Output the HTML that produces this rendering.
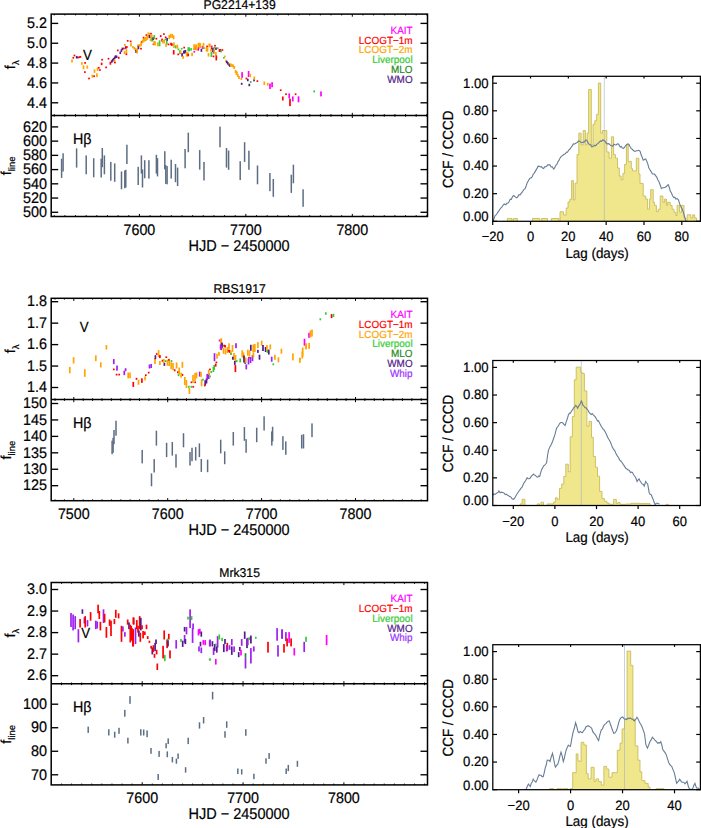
<!DOCTYPE html>
<html><head><meta charset="utf-8"><title>Light curves and CCF</title>
<style>html,body{margin:0;padding:0;background:#fff;} svg{display:block;} text{font-family:"Liberation Sans",sans-serif;}</style>
</head><body>
<svg width="701" height="828" viewBox="0 0 701 828" font-family="Liberation Sans, sans-serif" text-rendering="geometricPrecision">
<rect width="701" height="828" fill="#fff"/>
<rect x="71.15" y="59.5" width="1.7" height="3" fill="#ffa500"/>
<rect x="72.45" y="56.95" width="1.7" height="1.7" fill="#ff0000"/>
<rect x="73.65" y="54.65" width="1.7" height="1.7" fill="#ff0000"/>
<rect x="75.85" y="55.95" width="1.7" height="2.5" fill="#551a8b"/>
<rect x="77.15" y="56.65" width="1.7" height="1.7" fill="#551a8b"/>
<rect x="78.65" y="56.35" width="1.7" height="1.7" fill="#ff0000"/>
<rect x="79.55" y="56.05" width="1.7" height="1.7" fill="#ff0000"/>
<rect x="81.05" y="62.2" width="1.7" height="2.6" fill="#ffa500"/>
<rect x="82.65" y="65.3" width="1.7" height="4" fill="#ffa500"/>
<rect x="84.05" y="71.25" width="1.7" height="1.7" fill="#ff0000"/>
<rect x="84.25" y="62.05" width="1.7" height="1.7" fill="#ff0000"/>
<rect x="86.45" y="65.5" width="1.7" height="3.2" fill="#ffa500"/>
<rect x="88.15" y="77.65" width="1.7" height="1.7" fill="#ff0000"/>
<rect x="91.55" y="74.7" width="1.7" height="3" fill="#ffa500"/>
<rect x="93.25" y="75.35" width="1.7" height="1.7" fill="#ff0000"/>
<rect x="93.65" y="69.3" width="1.7" height="3.6" fill="#ffa500"/>
<rect x="96.05" y="73.3" width="1.7" height="3.8" fill="#ffa500"/>
<rect x="96.65" y="67.6" width="1.7" height="3.4" fill="#ffa500"/>
<rect x="97.95" y="66.95" width="1.7" height="1.7" fill="#ff0000"/>
<rect x="99.05" y="69.15" width="1.7" height="1.7" fill="#ff0000"/>
<rect x="100.75" y="62.65" width="1.7" height="2.5" fill="#ff0000"/>
<rect x="101.25" y="58.85" width="1.7" height="1.7" fill="#ff0000"/>
<rect x="105.25" y="66.55" width="1.7" height="1.7" fill="#ff0000"/>
<rect x="107.65" y="57.85" width="1.7" height="1.7" fill="#ff0000"/>
<rect x="109.55" y="61.7" width="1.7" height="3" fill="#ff0000"/>
<rect x="110.95" y="60.25" width="1.7" height="2.5" fill="#551a8b"/>
<rect x="111.85" y="59.05" width="1.7" height="2.5" fill="#551a8b"/>
<rect x="112.75" y="57.95" width="1.7" height="2.5" fill="#551a8b"/>
<rect x="113.75" y="59.45" width="1.7" height="2.5" fill="#ffa500"/>
<rect x="113.85" y="56.55" width="1.7" height="2.5" fill="#551a8b"/>
<rect x="114.05" y="61.75" width="1.7" height="1.7" fill="#ff0000"/>
<rect x="114.75" y="55.35" width="1.7" height="2.5" fill="#551a8b"/>
<rect x="115.75" y="55.55" width="1.7" height="2.5" fill="#551a8b"/>
<rect x="116.95" y="49.55" width="1.7" height="1.7" fill="#ff0000"/>
<rect x="117.85" y="56.8" width="1.7" height="2" fill="#ff0000"/>
<rect x="119.45" y="51.55" width="1.7" height="2.5" fill="#551a8b"/>
<rect x="120.55" y="49.35" width="1.7" height="2.5" fill="#551a8b"/>
<rect x="121.55" y="47.65" width="1.7" height="2.5" fill="#551a8b"/>
<rect x="123.05" y="47.65" width="1.7" height="1.7" fill="#ff0000"/>
<rect x="123.65" y="51.1" width="1.7" height="3" fill="#ffa500"/>
<rect x="123.95" y="44" width="1.7" height="2" fill="#ffa500"/>
<rect x="124.95" y="46.25" width="1.7" height="2.5" fill="#551a8b"/>
<rect x="125.55" y="49.05" width="1.7" height="4.5" fill="#ffa500"/>
<rect x="125.55" y="53.45" width="1.7" height="1.7" fill="#ff0000"/>
<rect x="125.95" y="46.1" width="1.7" height="2" fill="#ff0000"/>
<rect x="126.85" y="39.95" width="1.7" height="1.7" fill="#ff0000"/>
<rect x="129.75" y="40.55" width="1.7" height="1.7" fill="#ff0000"/>
<rect x="130.15" y="42.85" width="1.7" height="3.5" fill="#ffa500"/>
<rect x="132.05" y="45.95" width="1.7" height="2.5" fill="#ffa500"/>
<rect x="133.55" y="47.05" width="1.7" height="2.5" fill="#ffa500"/>
<rect x="134.55" y="48.05" width="1.7" height="2.5" fill="#ffa500"/>
<rect x="135.25" y="49.9" width="1.7" height="3" fill="#551a8b"/>
<rect x="136.25" y="48.5" width="1.7" height="5" fill="#ffa500"/>
<rect x="137.35" y="44.3" width="1.7" height="3" fill="#ffa500"/>
<rect x="137.55" y="45.75" width="1.7" height="3.5" fill="#551a8b"/>
<rect x="138.75" y="44" width="1.7" height="3" fill="#ffa500"/>
<rect x="140.15" y="47.85" width="1.7" height="1.7" fill="#ff0000"/>
<rect x="140.35" y="41.3" width="1.7" height="5" fill="#ffa500"/>
<rect x="141.25" y="41.05" width="1.7" height="1.7" fill="#ff0000"/>
<rect x="141.75" y="39.75" width="1.7" height="3.5" fill="#ffa500"/>
<rect x="142.75" y="38.35" width="1.7" height="3.5" fill="#ffa500"/>
<rect x="142.75" y="36.75" width="1.7" height="1.7" fill="#ff0000"/>
<rect x="143.95" y="37.4" width="1.7" height="4" fill="#ffa500"/>
<rect x="145.05" y="37" width="1.7" height="4" fill="#ffa500"/>
<rect x="145.55" y="34.25" width="1.7" height="1.7" fill="#ff0000"/>
<rect x="146.45" y="35.8" width="1.7" height="4" fill="#ffa500"/>
<rect x="147.45" y="32.5" width="1.7" height="5" fill="#ffa500"/>
<rect x="148.25" y="32.8" width="1.7" height="5" fill="#ffa500"/>
<rect x="148.75" y="35.1" width="1.7" height="3" fill="#551a8b"/>
<rect x="149.75" y="37.65" width="1.7" height="3.5" fill="#ffa500"/>
<rect x="150.15" y="32.85" width="1.7" height="1.7" fill="#ff0000"/>
<rect x="150.95" y="34.5" width="1.7" height="4" fill="#ffa500"/>
<rect x="151.25" y="38.05" width="1.7" height="3.5" fill="#33cc33"/>
<rect x="152.35" y="37.2" width="1.7" height="3" fill="#551a8b"/>
<rect x="152.65" y="43.45" width="1.7" height="1.7" fill="#ff0000"/>
<rect x="153.35" y="41" width="1.7" height="4" fill="#ffa500"/>
<rect x="153.45" y="35.1" width="1.7" height="4" fill="#33cc33"/>
<rect x="154.25" y="41.4" width="1.7" height="4" fill="#ffa500"/>
<rect x="155.55" y="37.85" width="1.7" height="1.7" fill="#ff0000"/>
<rect x="156.95" y="42.3" width="1.7" height="4" fill="#ffa500"/>
<rect x="158.75" y="40.3" width="1.7" height="6" fill="#33cc33"/>
<rect x="159.85" y="35.1" width="1.7" height="2" fill="#ff0000"/>
<rect x="161.25" y="38.6" width="1.7" height="3" fill="#ff0000"/>
<rect x="162.15" y="39.85" width="1.7" height="3.5" fill="#ffa500"/>
<rect x="163.05" y="33.25" width="1.7" height="1.7" fill="#ff0000"/>
<rect x="163.25" y="39.85" width="1.7" height="3.5" fill="#ffa500"/>
<rect x="164.45" y="38.55" width="1.7" height="1.7" fill="#33cc33"/>
<rect x="164.85" y="36.45" width="1.7" height="1.7" fill="#ff0000"/>
<rect x="165.15" y="43.8" width="1.7" height="3" fill="#ffa500"/>
<rect x="165.85" y="40.85" width="1.7" height="3.5" fill="#33cc33"/>
<rect x="166.25" y="37.9" width="1.7" height="3" fill="#551a8b"/>
<rect x="167.65" y="43.55" width="1.7" height="1.7" fill="#ff0000"/>
<rect x="168.35" y="35" width="1.7" height="4" fill="#ffa500"/>
<rect x="169.85" y="33.8" width="1.7" height="4" fill="#ffa500"/>
<rect x="170.15" y="42.75" width="1.7" height="2.5" fill="#ff0000"/>
<rect x="171.05" y="43.35" width="1.7" height="2.5" fill="#ff0000"/>
<rect x="171.35" y="33.9" width="1.7" height="4" fill="#ffa500"/>
<rect x="172.75" y="35.3" width="1.7" height="4" fill="#ffa500"/>
<rect x="172.85" y="50.05" width="1.7" height="4.5" fill="#ff0000"/>
<rect x="173.05" y="42.35" width="1.7" height="5.5" fill="#ffa500"/>
<rect x="174.85" y="45.4" width="1.7" height="3" fill="#33cc33"/>
<rect x="176.55" y="44.6" width="1.7" height="4" fill="#ffa500"/>
<rect x="177.35" y="53.55" width="1.7" height="1.7" fill="#ff0000"/>
<rect x="177.65" y="48.55" width="1.7" height="1.7" fill="#33cc33"/>
<rect x="179.15" y="50.2" width="1.7" height="4" fill="#33cc33"/>
<rect x="179.75" y="50.7" width="1.7" height="3" fill="#ffa500"/>
<rect x="180.85" y="47.85" width="1.7" height="1.7" fill="#33cc33"/>
<rect x="181.25" y="53.15" width="1.7" height="3.5" fill="#551a8b"/>
<rect x="182.25" y="55.8" width="1.7" height="3" fill="#ffa500"/>
<rect x="182.95" y="50.7" width="1.7" height="3" fill="#551a8b"/>
<rect x="183.35" y="46.75" width="1.7" height="1.7" fill="#ff0000"/>
<rect x="183.95" y="50.5" width="1.7" height="3" fill="#551a8b"/>
<rect x="184.55" y="49.9" width="1.7" height="3" fill="#551a8b"/>
<rect x="185.75" y="51.95" width="1.7" height="4.5" fill="#ffa500"/>
<rect x="186.75" y="52.15" width="1.7" height="4.5" fill="#ffa500"/>
<rect x="187.35" y="53.65" width="1.7" height="2.5" fill="#ff0000"/>
<rect x="187.45" y="47.3" width="1.7" height="4" fill="#33cc33"/>
<rect x="188.35" y="47.3" width="1.7" height="4" fill="#33cc33"/>
<rect x="190.25" y="48.15" width="1.7" height="2.5" fill="#33cc33"/>
<rect x="191.25" y="52.65" width="1.7" height="3.5" fill="#ffa500"/>
<rect x="193.25" y="44.35" width="1.7" height="5.5" fill="#ffa500"/>
<rect x="193.45" y="48.45" width="1.7" height="1.7" fill="#33cc33"/>
<rect x="193.45" y="50.95" width="1.7" height="1.7" fill="#ff00ff"/>
<rect x="194.15" y="44.55" width="1.7" height="5.5" fill="#ffa500"/>
<rect x="195.25" y="47.35" width="1.7" height="1.7" fill="#ff0000"/>
<rect x="195.35" y="44.4" width="1.7" height="6" fill="#ffa500"/>
<rect x="197.35" y="48.6" width="1.7" height="2" fill="#ff0000"/>
<rect x="197.45" y="43" width="1.7" height="5" fill="#ffa500"/>
<rect x="197.75" y="47.2" width="1.7" height="2" fill="#ff00ff"/>
<rect x="198.55" y="42.7" width="1.7" height="5" fill="#ffa500"/>
<rect x="199.45" y="43.1" width="1.7" height="5" fill="#ffa500"/>
<rect x="200.55" y="48.8" width="1.7" height="3" fill="#551a8b"/>
<rect x="201.65" y="45.9" width="1.7" height="3" fill="#ff00ff"/>
<rect x="202.65" y="43" width="1.7" height="5" fill="#ffa500"/>
<rect x="203.05" y="47.35" width="1.7" height="1.7" fill="#33cc33"/>
<rect x="205.65" y="47.05" width="1.7" height="4.5" fill="#ffa500"/>
<rect x="206.25" y="45.55" width="1.7" height="1.7" fill="#ff0000"/>
<rect x="206.65" y="47.25" width="1.7" height="4.5" fill="#ffa500"/>
<rect x="207.65" y="53.05" width="1.7" height="3.5" fill="#ffa500"/>
<rect x="208.35" y="43.55" width="1.7" height="3.5" fill="#ffa500"/>
<rect x="209.15" y="43.75" width="1.7" height="3.5" fill="#ffa500"/>
<rect x="210.15" y="48.7" width="1.7" height="3" fill="#ffa500"/>
<rect x="210.55" y="52" width="1.7" height="5" fill="#33cc33"/>
<rect x="210.85" y="45.55" width="1.7" height="1.7" fill="#ff00ff"/>
<rect x="210.95" y="47.2" width="1.7" height="2" fill="#ff0000"/>
<rect x="212.15" y="48" width="1.7" height="4" fill="#551a8b"/>
<rect x="212.65" y="55.55" width="1.7" height="1.7" fill="#ff0000"/>
<rect x="212.75" y="49.5" width="1.7" height="4" fill="#551a8b"/>
<rect x="213.35" y="49.3" width="1.7" height="4" fill="#ffa500"/>
<rect x="213.35" y="46.95" width="1.7" height="1.7" fill="#33cc33"/>
<rect x="214.15" y="44.85" width="1.7" height="1.7" fill="#ff0000"/>
<rect x="215.05" y="52.15" width="1.7" height="3.5" fill="#ffa500"/>
<rect x="215.15" y="47.45" width="1.7" height="2.5" fill="#551a8b"/>
<rect x="215.45" y="55.4" width="1.7" height="5" fill="#ff0000"/>
<rect x="216.95" y="47.35" width="1.7" height="1.7" fill="#33cc33"/>
<rect x="218.65" y="49" width="1.7" height="3" fill="#ff0000"/>
<rect x="219.45" y="49" width="1.7" height="3" fill="#ff0000"/>
<rect x="220.15" y="50.4" width="1.7" height="2" fill="#33cc33"/>
<rect x="221.55" y="49.15" width="1.7" height="1.7" fill="#ff0000"/>
<rect x="223.05" y="56.95" width="1.7" height="1.7" fill="#33cc33"/>
<rect x="224.15" y="55.55" width="1.7" height="1.7" fill="#ffa500"/>
<rect x="225.15" y="59.75" width="1.7" height="2.5" fill="#ffa500"/>
<rect x="225.95" y="60.75" width="1.7" height="2.5" fill="#551a8b"/>
<rect x="226.95" y="62.05" width="1.7" height="2.5" fill="#551a8b"/>
<rect x="227.95" y="63.25" width="1.7" height="2.5" fill="#551a8b"/>
<rect x="228.65" y="63" width="1.7" height="3" fill="#ffa500"/>
<rect x="228.95" y="64.25" width="1.7" height="2.5" fill="#551a8b"/>
<rect x="229.95" y="63.5" width="1.7" height="3" fill="#ffa500"/>
<rect x="231.15" y="64" width="1.7" height="3" fill="#ffa500"/>
<rect x="232.35" y="64.5" width="1.7" height="3" fill="#ffa500"/>
<rect x="233.45" y="66" width="1.7" height="3" fill="#ffa500"/>
<rect x="234.75" y="70" width="1.7" height="3" fill="#ffa500"/>
<rect x="235.95" y="72" width="1.7" height="3" fill="#ffa500"/>
<rect x="236.95" y="74" width="1.7" height="3" fill="#ffa500"/>
<rect x="235.65" y="71" width="1.7" height="4" fill="#ffa500"/>
<rect x="238.15" y="76" width="1.7" height="3" fill="#ffa500"/>
<rect x="240.55" y="78" width="1.7" height="2" fill="#ffa500"/>
<rect x="240.85" y="82.8" width="1.7" height="2" fill="#551a8b"/>
<rect x="241.25" y="72.15" width="1.7" height="5.7" fill="#ff00ff"/>
<rect x="245.55" y="77.65" width="1.7" height="1.7" fill="#ff0000"/>
<rect x="246.95" y="78.75" width="1.7" height="2.5" fill="#551a8b"/>
<rect x="247.75" y="71" width="1.7" height="6" fill="#ff00ff"/>
<rect x="248.45" y="83.75" width="1.7" height="2.5" fill="#551a8b"/>
<rect x="249.45" y="73.75" width="1.7" height="3.5" fill="#ffa500"/>
<rect x="249.85" y="81" width="1.7" height="2" fill="#33cc33"/>
<rect x="253.15" y="79.3" width="1.7" height="2" fill="#551a8b"/>
<rect x="253.45" y="76.5" width="1.7" height="3" fill="#ffa500"/>
<rect x="256.55" y="80.25" width="1.7" height="1.7" fill="#ff0000"/>
<rect x="263.45" y="81.45" width="1.7" height="3.5" fill="#ffa500"/>
<rect x="266.95" y="82.8" width="1.7" height="3" fill="#ffa500"/>
<rect x="269.15" y="83.55" width="1.7" height="5.5" fill="#ff00ff"/>
<rect x="271.25" y="82.2" width="1.7" height="5" fill="#ff00ff"/>
<rect x="279.85" y="89.35" width="1.7" height="1.7" fill="#ff0000"/>
<rect x="281.95" y="96.5" width="1.7" height="4" fill="#ff0000"/>
<rect x="285.15" y="93.35" width="1.7" height="1.7" fill="#ff0000"/>
<rect x="288.35" y="93.4" width="1.7" height="5" fill="#ff00ff"/>
<rect x="289.15" y="98.65" width="1.7" height="7.5" fill="#ff0000"/>
<rect x="291.95" y="96.4" width="1.7" height="5" fill="#ff00ff"/>
<rect x="294.75" y="93.35" width="1.7" height="1.7" fill="#ff0000"/>
<rect x="297.65" y="96.3" width="1.7" height="6" fill="#ff00ff"/>
<rect x="313.35" y="90.4" width="1.7" height="2" fill="#33cc33"/>
<rect x="320.15" y="91.4" width="1.7" height="5" fill="#ff00ff"/>
<rect x="60.85" y="158.7" width="1.5" height="19.2" fill="#5d6e84"/>
<rect x="62.35" y="153.3" width="1.5" height="18.2" fill="#5d6e84"/>
<rect x="75.85" y="148.4" width="1.5" height="19.2" fill="#5d6e84"/>
<rect x="85.45" y="155.4" width="1.5" height="18.9" fill="#5d6e84"/>
<rect x="92.95" y="158.2" width="1.5" height="19.1" fill="#5d6e84"/>
<rect x="100.45" y="158.7" width="1.5" height="18.8" fill="#5d6e84"/>
<rect x="101.55" y="148" width="1.5" height="19.2" fill="#5d6e84"/>
<rect x="103.65" y="155.4" width="1.5" height="18.9" fill="#5d6e84"/>
<rect x="110.05" y="161.9" width="1.5" height="18.8" fill="#5d6e84"/>
<rect x="113.95" y="163.4" width="1.5" height="18.4" fill="#5d6e84"/>
<rect x="120.75" y="171.5" width="1.5" height="17.8" fill="#5d6e84"/>
<rect x="124.05" y="170.4" width="1.5" height="17.8" fill="#5d6e84"/>
<rect x="125.05" y="169.8" width="1.5" height="17.7" fill="#5d6e84"/>
<rect x="126.15" y="144.7" width="1.5" height="19.3" fill="#5d6e84"/>
<rect x="137.45" y="166.8" width="1.5" height="18.2" fill="#5d6e84"/>
<rect x="140.65" y="155.4" width="1.5" height="18.2" fill="#5d6e84"/>
<rect x="141.75" y="169.4" width="1.5" height="18.1" fill="#5d6e84"/>
<rect x="143.95" y="160.2" width="1.5" height="18.1" fill="#5d6e84"/>
<rect x="148.15" y="160.2" width="1.5" height="18.4" fill="#5d6e84"/>
<rect x="155.65" y="154.8" width="1.5" height="18.8" fill="#5d6e84"/>
<rect x="156.75" y="158.2" width="1.5" height="18.2" fill="#5d6e84"/>
<rect x="164.05" y="151.2" width="1.5" height="18.2" fill="#5d6e84"/>
<rect x="165.05" y="165.1" width="1.5" height="18.8" fill="#5d6e84"/>
<rect x="166.35" y="166.1" width="1.5" height="18.2" fill="#5d6e84"/>
<rect x="170.45" y="159.7" width="1.5" height="18.9" fill="#5d6e84"/>
<rect x="174.75" y="164" width="1.5" height="18.2" fill="#5d6e84"/>
<rect x="176.85" y="167.6" width="1.5" height="18.4" fill="#5d6e84"/>
<rect x="184.35" y="149" width="1.5" height="19.3" fill="#5d6e84"/>
<rect x="187.55" y="132.6" width="1.5" height="19.6" fill="#5d6e84"/>
<rect x="198.95" y="150.1" width="1.5" height="19.5" fill="#5d6e84"/>
<rect x="203.25" y="161.9" width="1.5" height="18.6" fill="#5d6e84"/>
<rect x="219.25" y="126.6" width="1.5" height="20.7" fill="#5d6e84"/>
<rect x="225.75" y="148" width="1.5" height="19.6" fill="#5d6e84"/>
<rect x="227.85" y="150.5" width="1.5" height="19.3" fill="#5d6e84"/>
<rect x="239.45" y="161.2" width="1.5" height="18.9" fill="#5d6e84"/>
<rect x="243.85" y="142.2" width="1.5" height="19.7" fill="#5d6e84"/>
<rect x="248.15" y="150.7" width="1.5" height="19.1" fill="#5d6e84"/>
<rect x="256.75" y="165.5" width="1.5" height="18.8" fill="#5d6e84"/>
<rect x="269.15" y="173" width="1.5" height="18.2" fill="#5d6e84"/>
<rect x="272.55" y="179" width="1.5" height="17.8" fill="#5d6e84"/>
<rect x="290.55" y="174.7" width="1.5" height="18.2" fill="#5d6e84"/>
<rect x="292.65" y="164.7" width="1.5" height="18.6" fill="#5d6e84"/>
<rect x="302.35" y="189.3" width="1.5" height="17.5" fill="#5d6e84"/>
<path d="M507.4,221.3V218.5H509.7V221.3ZM509.7,221.3V218.5H512V221.3ZM513.3,221.3V218.5H517.4V221.3ZM532.4,221.3V218.5H539.8V221.3ZM541.6,221.3V218.5H547.5V221.3ZM551.3,221.3V218.5H559V221.3ZM560,221.3V211.8H563.6V221.3ZM563.6,221.3V215H566.2V221.3ZM566.2,221.3V208H568V221.3ZM568,221.3V202H569.8V221.3ZM569.8,221.3V199.3H571.6V221.3ZM571.6,221.3V180.6H573.4V221.3ZM573.4,221.3V200H575V221.3ZM575,221.3V183.2H577V221.3ZM577,221.3V154.6H578.8V221.3ZM578.8,221.3V133.2H581.1V221.3ZM581.1,221.3V144.8H583.2V221.3ZM583.2,221.3V130.5H585.4V221.3ZM585.4,221.3V144.8H587.1V221.3ZM587.1,221.3V133.2H588.6V221.3ZM588.6,221.3V89.4H591.3V221.3ZM591.3,221.3V144.8H593V221.3ZM593,221.3V124.3H594.8V221.3ZM594.8,221.3V120.7H596.6V221.3ZM596.6,221.3V114.4H598.4V221.3ZM598.4,221.3V83.1H600.7V221.3ZM600.7,221.3V133.2H602.5V221.3ZM602.5,221.3V130.5H604.6V221.3ZM604.6,221.3V130.5H606.8V221.3ZM606.8,221.3V152H609.1V221.3ZM609.1,221.3V158.2H611.4V221.3ZM611.4,221.3V136.8H613.6V221.3ZM613.6,221.3V154.6H615.4V221.3ZM615.4,221.3V158.2H617.5V221.3ZM617.5,221.3V168H619.3V221.3ZM619.3,221.3V176H621.1V221.3ZM621.1,221.3V179.7H622.9V221.3ZM622.9,221.3V173.4H624.6V221.3ZM624.6,221.3V164.5H626.4V221.3ZM626.4,221.3V144.8H628.2V221.3ZM628.2,221.3V161.8H630V221.3ZM630,221.3V161.4H631.3V221.3ZM631.3,221.3V168.4H632.5V221.3ZM632.5,221.3V170.9H636.3V221.3ZM636.3,221.3V158.3H638.8V221.3ZM638.8,221.3V174H640V221.3ZM640,221.3V183.4H643.2V221.3ZM643.2,221.3V196H645.7V221.3ZM645.7,221.3V199.1H647.6V221.3ZM647.6,221.3V209.2H649.5V221.3ZM649.5,221.3V199.1H650.7V221.3ZM650.7,221.3V189.7H653.2V221.3ZM653.2,221.3V202.3H654.5V221.3ZM654.5,221.3V205.4H656.4V221.3ZM656.4,221.3V211.7H658.3V221.3ZM658.3,221.3V209.2H660.2V221.3ZM660.2,221.3V196H662.9V221.3ZM662.9,221.3V202.3H664.6V221.3ZM664.6,221.3V199.1H666.4V221.3ZM666.4,221.3V205.4H667.7V221.3ZM667.7,221.3V202.3H670.2V221.3ZM670.2,221.3V205.4H672.1V221.3ZM672.1,221.3V209.2H674V221.3ZM674,221.3V212.3H675.9V221.3ZM675.9,221.3V215.5H677.1V221.3ZM677.1,221.3V205.4H679.6V221.3ZM679.6,221.3V212.3H681.5V221.3ZM681.5,221.3V205.4H684V221.3ZM684,221.3V218H685.9V221.3ZM685.9,221.3V221.3H687.2V221.3ZM687.2,221.3V214.8H690.9V221.3ZM690.9,221.3V218H692.8V221.3ZM692.8,221.3V214.8H694.7V221.3ZM694.7,221.3V218H696.6V221.3Z" fill="#f0e68c" stroke="none"/>
<polyline points="507.4,221.3 507.4,218.5 509.7,218.5 509.7,218.5 512,218.5 512,221.3" fill="none" stroke="#c9bb5a" stroke-width="0.9"/>
<polyline points="513.3,221.3 513.3,218.5 517.4,218.5 517.4,221.3" fill="none" stroke="#c9bb5a" stroke-width="0.9"/>
<polyline points="532.4,221.3 532.4,218.5 539.8,218.5 539.8,221.3" fill="none" stroke="#c9bb5a" stroke-width="0.9"/>
<polyline points="541.6,221.3 541.6,218.5 547.5,218.5 547.5,221.3" fill="none" stroke="#c9bb5a" stroke-width="0.9"/>
<polyline points="551.3,221.3 551.3,218.5 559,218.5 559,221.3" fill="none" stroke="#c9bb5a" stroke-width="0.9"/>
<polyline points="560,221.3 560,211.8 563.6,211.8 563.6,215 566.2,215 566.2,208 568,208 568,202 569.8,202 569.8,199.3 571.6,199.3 571.6,180.6 573.4,180.6 573.4,200 575,200 575,183.2 577,183.2 577,154.6 578.8,154.6 578.8,133.2 581.1,133.2 581.1,144.8 583.2,144.8 583.2,130.5 585.4,130.5 585.4,144.8 587.1,144.8 587.1,133.2 588.6,133.2 588.6,89.4 591.3,89.4 591.3,144.8 593,144.8 593,124.3 594.8,124.3 594.8,120.7 596.6,120.7 596.6,114.4 598.4,114.4 598.4,83.1 600.7,83.1 600.7,133.2 602.5,133.2 602.5,130.5 604.6,130.5 604.6,130.5 606.8,130.5 606.8,152 609.1,152 609.1,158.2 611.4,158.2 611.4,136.8 613.6,136.8 613.6,154.6 615.4,154.6 615.4,158.2 617.5,158.2 617.5,168 619.3,168 619.3,176 621.1,176 621.1,179.7 622.9,179.7 622.9,173.4 624.6,173.4 624.6,164.5 626.4,164.5 626.4,144.8 628.2,144.8 628.2,161.8 630,161.8 630,161.4 631.3,161.4 631.3,168.4 632.5,168.4 632.5,170.9 636.3,170.9 636.3,158.3 638.8,158.3 638.8,174 640,174 640,183.4 643.2,183.4 643.2,196 645.7,196 645.7,199.1 647.6,199.1 647.6,209.2 649.5,209.2 649.5,199.1 650.7,199.1 650.7,189.7 653.2,189.7 653.2,202.3 654.5,202.3 654.5,205.4 656.4,205.4 656.4,211.7 658.3,211.7 658.3,209.2 660.2,209.2 660.2,196 662.9,196 662.9,202.3 664.6,202.3 664.6,199.1 666.4,199.1 666.4,205.4 667.7,205.4 667.7,202.3 670.2,202.3 670.2,205.4 672.1,205.4 672.1,209.2 674,209.2 674,212.3 675.9,212.3 675.9,215.5 677.1,215.5 677.1,205.4 679.6,205.4 679.6,212.3 681.5,212.3 681.5,205.4 684,205.4 684,218 685.9,218 685.9,221.3 687.2,221.3 687.2,214.8 690.9,214.8 690.9,218 692.8,218 692.8,214.8 694.7,214.8 694.7,218 696.6,218 696.6,221.3" fill="none" stroke="#c9bb5a" stroke-width="0.9"/>
<line x1="604.3" y1="76.3" x2="604.3" y2="221.3" stroke="#a4b2c2" stroke-width="0.6"/>
<polyline points="492.8,220.9 493.95,218.72 495.1,215.5 496.37,214.7 497.63,212.59 498.9,210.9 499.93,209.27 500.97,207.84 502,207 503.15,205.08 504.3,204 505.9,204.7 506.93,203.02 507.97,203.23 509,201.7 510.15,199.28 511.3,199.33 512.45,196.7 513.6,195.5 514.6,196.26 515.6,197.07 516.6,197.8 517.77,196.78 518.95,194.61 520.12,194.93 521.3,193.2 522.57,191.59 523.83,189.55 525.1,188.6 526.13,185.97 527.17,182.89 528.2,180.9 529.18,179.34 530.15,178.05 531.12,177.87 532.1,177 533.1,174.33 534.1,173.33 535.1,171.6 536.13,169.88 537.17,168.13 538.2,166.2 539.35,166.34 540.5,167 541.53,166.67 542.57,168.06 543.6,168.5 544.63,166.86 545.67,166.78 546.7,166.2 547.73,164.92 548.77,164.92 549.8,164.7 551.07,166.99 552.33,166.82 553.6,169 554.63,167.93 555.67,165.56 556.7,164.7 557.73,162.3 558.77,160.64 559.8,158.5 561.07,156.59 562.33,155.67 563.6,154.7 564.5,154.02 565.4,153.7 566.5,152 567.6,152.23 568.7,150.02 569.8,149.3 571,147.51 572.2,145.85 573.4,143.9 574.75,143.96 576.1,143 577.27,142.51 578.43,140.91 579.6,141.2 580.8,142.28 582,142.57 583.2,142.1 584.4,141.89 585.6,140.12 586.8,140.3 588.15,142.91 589.5,144.8 590.67,144.71 591.83,146.84 593,146.6 594.35,145.38 595.7,145.7 596.9,144.07 598.1,143.35 599.3,142.1 600.42,140.99 601.55,141.39 602.67,139.91 603.8,140.3 604.97,141.2 606.13,143.03 607.3,143.9 608.42,143.64 609.55,144.29 610.67,145.51 611.8,145.7 612.86,146.19 613.92,144.26 614.98,144.72 616.04,144.93 617.1,144 618.15,143.93 619.2,145.19 620.25,146.94 621.3,146.51 622.35,148 623.4,148.4 624.52,147.48 625.65,145.5 626.77,144.35 627.9,143.9 628.95,144.44 630,146.4 631.25,148.6 632.5,149.5 633.75,150.8 635,151.4 636.25,150.73 637.5,150.8 638.8,150.31 640.1,151.4 641.13,154.79 642.17,157.32 643.2,160.2 644.45,159.42 645.7,158.9 646.73,161.31 647.77,163.87 648.8,167.7 650.1,169.91 651.4,172.1 652.3,173.77 653.2,174 654.5,174.08 655.8,175.9 656.83,177.32 657.87,179.97 658.9,181.5 660.15,185.02 661.4,188.4 662.65,187.8 663.9,187.8 665.15,187.24 666.4,186.6 667.35,185.19 668.3,184.7 669.25,187.21 670.2,191 671.45,193.01 672.7,196 673.77,197.6 674.83,197.25 675.9,199.1 677.15,198.61 678.4,199.8 679.65,203.86 680.9,206.7 682.15,209.01 683.4,212.3 684.65,216.92 685.9,221.3" fill="none" stroke="#677d97" stroke-width="1.1" stroke-linejoin="miter"/>
<rect x="68.95" y="366.9" width="1.7" height="6.4" fill="#ffa500"/>
<rect x="72.75" y="357.1" width="1.7" height="6.4" fill="#ffa500"/>
<rect x="83.95" y="369.15" width="1.7" height="7.7" fill="#ffa500"/>
<rect x="94.95" y="355.3" width="1.7" height="5.8" fill="#ffa500"/>
<rect x="99.95" y="362.35" width="1.7" height="5.1" fill="#ffa500"/>
<rect x="105.55" y="345.05" width="1.7" height="4.5" fill="#ffa500"/>
<rect x="112.95" y="359.05" width="1.7" height="5.1" fill="#a020f0"/>
<rect x="112.95" y="368.55" width="1.7" height="1.7" fill="#ff0000"/>
<rect x="116.15" y="365.55" width="1.7" height="5.1" fill="#a020f0"/>
<rect x="115.75" y="373.75" width="1.7" height="1.7" fill="#ff0000"/>
<rect x="118.35" y="373.75" width="1.7" height="1.7" fill="#ff0000"/>
<rect x="123.45" y="370.65" width="1.7" height="4.5" fill="#a020f0"/>
<rect x="124.75" y="368.2" width="1.7" height="3" fill="#a020f0"/>
<rect x="127.35" y="372.5" width="1.7" height="5.8" fill="#ffa500"/>
<rect x="129.15" y="372.5" width="1.7" height="5.8" fill="#ffa500"/>
<rect x="132.45" y="381.9" width="1.7" height="5" fill="#ff0000"/>
<rect x="135.65" y="377.8" width="1.7" height="2" fill="#ff0000"/>
<rect x="137.65" y="379.8" width="1.7" height="5" fill="#ffa500"/>
<rect x="141.05" y="378.35" width="1.7" height="4.5" fill="#ff0000"/>
<rect x="144.25" y="376.4" width="1.7" height="4" fill="#ffa500"/>
<rect x="144.95" y="374.35" width="1.7" height="1.7" fill="#ff0000"/>
<rect x="147.85" y="371.75" width="1.7" height="1.7" fill="#ff0000"/>
<rect x="148.65" y="364.5" width="1.7" height="4" fill="#a020f0"/>
<rect x="150.35" y="364" width="1.7" height="4" fill="#a020f0"/>
<rect x="154.15" y="358" width="1.7" height="6" fill="#ffa500"/>
<rect x="154.55" y="355.2" width="1.7" height="4" fill="#551a8b"/>
<rect x="155.85" y="353.15" width="1.7" height="1.7" fill="#ff0000"/>
<rect x="157.75" y="350.1" width="1.7" height="7" fill="#ffa500"/>
<rect x="159.05" y="355.1" width="1.7" height="3" fill="#ff0000"/>
<rect x="159.05" y="361" width="1.7" height="4" fill="#ffa500"/>
<rect x="161.65" y="359.7" width="1.7" height="2" fill="#ff0000"/>
<rect x="162.95" y="359" width="1.7" height="4" fill="#ffa500"/>
<rect x="163.55" y="362.9" width="1.7" height="3" fill="#551a8b"/>
<rect x="164.85" y="360.1" width="1.7" height="2" fill="#33cc33"/>
<rect x="165.45" y="356.35" width="1.7" height="1.7" fill="#ff0000"/>
<rect x="166.65" y="359.7" width="1.7" height="6" fill="#ffa500"/>
<rect x="168.35" y="360" width="1.7" height="6" fill="#ffa500"/>
<rect x="168.05" y="358.95" width="1.7" height="1.7" fill="#ff0000"/>
<rect x="170.65" y="360.1" width="1.7" height="2" fill="#33cc33"/>
<rect x="170.35" y="362.2" width="1.7" height="7" fill="#ffa500"/>
<rect x="172.15" y="363" width="1.7" height="7" fill="#ffa500"/>
<rect x="173.85" y="369.3" width="1.7" height="2" fill="#ff0000"/>
<rect x="175.75" y="362.5" width="1.7" height="6" fill="#ffa500"/>
<rect x="177.05" y="371.3" width="1.7" height="2" fill="#ff0000"/>
<rect x="178.35" y="367.5" width="1.7" height="7" fill="#ffa500"/>
<rect x="177.65" y="374.2" width="1.7" height="2" fill="#33cc33"/>
<rect x="181.55" y="361.8" width="1.7" height="6" fill="#ffa500"/>
<rect x="181.55" y="373.9" width="1.7" height="2" fill="#ff0000"/>
<rect x="180.25" y="372.7" width="1.7" height="5" fill="#ffa500"/>
<rect x="183.95" y="377" width="1.7" height="8" fill="#ffa500"/>
<rect x="185.55" y="380" width="1.7" height="8" fill="#ffa500"/>
<rect x="187.95" y="385.8" width="1.7" height="2" fill="#33cc33"/>
<rect x="188.55" y="387.9" width="1.7" height="6" fill="#ffa500"/>
<rect x="190.55" y="381.45" width="1.7" height="1.7" fill="#ff0000"/>
<rect x="190.55" y="385.8" width="1.7" height="2" fill="#33cc33"/>
<rect x="192.45" y="385.95" width="1.7" height="1.7" fill="#ff0000"/>
<rect x="192.15" y="375" width="1.7" height="8" fill="#ffa500"/>
<rect x="194.15" y="373" width="1.7" height="8" fill="#ffa500"/>
<rect x="195.65" y="372.4" width="1.7" height="6" fill="#ffa500"/>
<rect x="194.35" y="381.45" width="1.7" height="1.7" fill="#ff0000"/>
<rect x="198.85" y="371.6" width="1.7" height="5" fill="#a020f0"/>
<rect x="200.15" y="371.9" width="1.7" height="5" fill="#ffa500"/>
<rect x="200.75" y="379.3" width="1.7" height="7" fill="#ffa500"/>
<rect x="202.05" y="378.7" width="1.7" height="2" fill="#33cc33"/>
<rect x="204.35" y="380.3" width="1.7" height="5" fill="#551a8b"/>
<rect x="205.65" y="378.5" width="1.7" height="5" fill="#551a8b"/>
<rect x="203.95" y="384.65" width="1.7" height="1.7" fill="#ff0000"/>
<rect x="206.35" y="374" width="1.7" height="6" fill="#a020f0"/>
<rect x="207.85" y="373" width="1.7" height="6" fill="#a020f0"/>
<rect x="209.15" y="375.5" width="1.7" height="2" fill="#33cc33"/>
<rect x="207.85" y="369.7" width="1.7" height="5" fill="#ffa500"/>
<rect x="209.15" y="368.55" width="1.7" height="1.7" fill="#ff0000"/>
<rect x="210.45" y="371" width="1.7" height="2" fill="#33cc33"/>
<rect x="212.55" y="367" width="1.7" height="5" fill="#33cc33"/>
<rect x="213.35" y="365" width="1.7" height="5" fill="#33cc33"/>
<rect x="213.65" y="353.2" width="1.7" height="8" fill="#a020f0"/>
<rect x="214.85" y="363.6" width="1.7" height="3" fill="#ff0000"/>
<rect x="216.15" y="353.7" width="1.7" height="5" fill="#ffa500"/>
<rect x="215.55" y="361.55" width="1.7" height="1.7" fill="#ff0000"/>
<rect x="218.15" y="351.9" width="1.7" height="4" fill="#ffa500"/>
<rect x="218.75" y="339.5" width="1.7" height="2" fill="#ff00ff"/>
<rect x="220.15" y="338.9" width="1.7" height="9" fill="#ffa500"/>
<rect x="221.15" y="343.3" width="1.7" height="5" fill="#551a8b"/>
<rect x="220.35" y="345.1" width="1.7" height="5" fill="#a020f0"/>
<rect x="223.25" y="344.7" width="1.7" height="2" fill="#ff0000"/>
<rect x="220.45" y="338.2" width="1.7" height="6" fill="#ffa500"/>
<rect x="221.05" y="342.6" width="1.7" height="3" fill="#551a8b"/>
<rect x="219.75" y="344.4" width="1.7" height="5" fill="#a020f0"/>
<rect x="224.25" y="345.05" width="1.7" height="2.5" fill="#ff0000"/>
<rect x="222.65" y="347.8" width="1.7" height="6" fill="#ffa500"/>
<rect x="224.65" y="348.5" width="1.7" height="6" fill="#ffa500"/>
<rect x="226.65" y="347" width="1.7" height="6" fill="#ffa500"/>
<rect x="228.15" y="343.3" width="1.7" height="6" fill="#ffa500"/>
<rect x="227.75" y="349.8" width="1.7" height="2" fill="#ff0000"/>
<rect x="228.75" y="349.9" width="1.7" height="3" fill="#ff0000"/>
<rect x="230.05" y="350.7" width="1.7" height="4" fill="#ffa500"/>
<rect x="231.65" y="345" width="1.7" height="7" fill="#ffa500"/>
<rect x="230.05" y="353" width="1.7" height="2" fill="#33cc33"/>
<rect x="233.15" y="353" width="1.7" height="7" fill="#ffa500"/>
<rect x="234.65" y="355" width="1.7" height="7" fill="#ffa500"/>
<rect x="231.95" y="356.7" width="1.7" height="3" fill="#551a8b"/>
<rect x="233.95" y="360.9" width="1.7" height="4" fill="#551a8b"/>
<rect x="235.15" y="343.2" width="1.7" height="5" fill="#a020f0"/>
<rect x="235.85" y="360.1" width="1.7" height="2" fill="#33cc33"/>
<rect x="234.55" y="365.1" width="1.7" height="7" fill="#ff0000"/>
<rect x="239.35" y="358.4" width="1.7" height="4" fill="#33cc33"/>
<rect x="241.35" y="350.3" width="1.7" height="7" fill="#ffa500"/>
<rect x="242.65" y="352.5" width="1.7" height="6" fill="#ffa500"/>
<rect x="243.15" y="355.5" width="1.7" height="7" fill="#551a8b"/>
<rect x="244.35" y="357.8" width="1.7" height="6" fill="#551a8b"/>
<rect x="245.45" y="364.4" width="1.7" height="5" fill="#a020f0"/>
<rect x="244.85" y="357.8" width="1.7" height="5" fill="#ffa500"/>
<rect x="246.95" y="349.7" width="1.7" height="6" fill="#ffa500"/>
<rect x="248.65" y="350.5" width="1.7" height="6" fill="#ffa500"/>
<rect x="248.05" y="357.05" width="1.7" height="1.7" fill="#ff0000"/>
<rect x="247.65" y="358.5" width="1.7" height="6" fill="#a020f0"/>
<rect x="249.65" y="357" width="1.7" height="6" fill="#a020f0"/>
<rect x="251.65" y="355.2" width="1.7" height="6" fill="#a020f0"/>
<rect x="249.95" y="344.8" width="1.7" height="6" fill="#551a8b"/>
<rect x="252.35" y="344.5" width="1.7" height="8" fill="#ffa500"/>
<rect x="253.95" y="344" width="1.7" height="8" fill="#ffa500"/>
<rect x="252.55" y="352.7" width="1.7" height="5" fill="#ffa500"/>
<rect x="257.05" y="342.1" width="1.7" height="6" fill="#ffa500"/>
<rect x="257.05" y="349.9" width="1.7" height="3" fill="#551a8b"/>
<rect x="258.65" y="354.7" width="1.7" height="5" fill="#551a8b"/>
<rect x="260.85" y="340.6" width="1.7" height="5" fill="#ffa500"/>
<rect x="262.15" y="345" width="1.7" height="6" fill="#551a8b"/>
<rect x="264.75" y="347" width="1.7" height="5" fill="#551a8b"/>
<rect x="266.05" y="345" width="1.7" height="6" fill="#ffa500"/>
<rect x="266.65" y="349.9" width="1.7" height="3" fill="#33cc33"/>
<rect x="267.95" y="349.6" width="1.7" height="5" fill="#551a8b"/>
<rect x="269.45" y="344.4" width="1.7" height="5" fill="#ffa500"/>
<rect x="270.85" y="356.7" width="1.7" height="5" fill="#a020f0"/>
<rect x="274.05" y="354.8" width="1.7" height="5" fill="#ffa500"/>
<rect x="272.45" y="363.3" width="1.7" height="2" fill="#33cc33"/>
<rect x="277.55" y="357.3" width="1.7" height="5" fill="#ffa500"/>
<rect x="280.55" y="348.7" width="1.7" height="5" fill="#ffa500"/>
<rect x="292.05" y="353.4" width="1.7" height="7" fill="#ffa500"/>
<rect x="299.05" y="357.9" width="1.7" height="5" fill="#ffa500"/>
<rect x="299.25" y="357.8" width="1.7" height="2" fill="#ffa500"/>
<rect x="301.85" y="347.5" width="1.7" height="9" fill="#ffa500"/>
<rect x="301.45" y="351.5" width="1.7" height="7" fill="#ffa500"/>
<rect x="303.65" y="338.7" width="1.7" height="7" fill="#ff00ff"/>
<rect x="305.05" y="343.7" width="1.7" height="5" fill="#ffa500"/>
<rect x="305.15" y="343.3" width="1.7" height="6" fill="#ffa500"/>
<rect x="308.25" y="342.9" width="1.7" height="6" fill="#ffa500"/>
<rect x="308.15" y="332.8" width="1.7" height="5" fill="#ff00ff"/>
<rect x="309.65" y="330.5" width="1.7" height="7" fill="#ffa500"/>
<rect x="311.15" y="329.5" width="1.7" height="7" fill="#ffa500"/>
<rect x="319.45" y="318.3" width="1.7" height="2" fill="#33cc33"/>
<rect x="324.95" y="312.25" width="1.7" height="2.5" fill="#33cc33"/>
<rect x="330.75" y="314.1" width="1.7" height="4" fill="#ff0000"/>
<rect x="332.65" y="313.9" width="1.7" height="3" fill="#33cc33"/>
<rect x="111.35" y="440.7" width="1.5" height="13.5" fill="#5d6e84"/>
<rect x="112.35" y="437.8" width="1.5" height="15" fill="#5d6e84"/>
<rect x="113.25" y="430" width="1.5" height="14.2" fill="#5d6e84"/>
<rect x="115.25" y="420.7" width="1.5" height="15" fill="#5d6e84"/>
<rect x="141.45" y="449.9" width="1.5" height="13.5" fill="#5d6e84"/>
<rect x="150.75" y="473.4" width="1.5" height="12.9" fill="#5d6e84"/>
<rect x="153.45" y="459.1" width="1.5" height="13.4" fill="#5d6e84"/>
<rect x="155.65" y="430.7" width="1.5" height="14.9" fill="#5d6e84"/>
<rect x="165.85" y="442.8" width="1.5" height="14.3" fill="#5d6e84"/>
<rect x="171.55" y="442" width="1.5" height="13.6" fill="#5d6e84"/>
<rect x="175.25" y="454.2" width="1.5" height="13.4" fill="#5d6e84"/>
<rect x="182.75" y="433.2" width="1.5" height="14.1" fill="#5d6e84"/>
<rect x="189.25" y="452.1" width="1.5" height="13.5" fill="#5d6e84"/>
<rect x="191.25" y="447.7" width="1.5" height="13.5" fill="#5d6e84"/>
<rect x="194.95" y="447.1" width="1.5" height="13.4" fill="#5d6e84"/>
<rect x="198.65" y="443.4" width="1.5" height="13.7" fill="#5d6e84"/>
<rect x="200.55" y="459" width="1.5" height="12.9" fill="#5d6e84"/>
<rect x="206.85" y="459.6" width="1.5" height="12.6" fill="#5d6e84"/>
<rect x="219.95" y="439.7" width="1.5" height="13.7" fill="#5d6e84"/>
<rect x="223.95" y="451.4" width="1.5" height="12.8" fill="#5d6e84"/>
<rect x="232.55" y="432" width="1.5" height="13.6" fill="#5d6e84"/>
<rect x="243.65" y="427.1" width="1.5" height="13.7" fill="#5d6e84"/>
<rect x="245.35" y="439.1" width="1.5" height="13.7" fill="#5d6e84"/>
<rect x="255.95" y="427.7" width="1.5" height="14.5" fill="#5d6e84"/>
<rect x="263.35" y="416.3" width="1.5" height="14.2" fill="#5d6e84"/>
<rect x="271.05" y="431.4" width="1.5" height="14.2" fill="#5d6e84"/>
<rect x="271.85" y="426.8" width="1.5" height="14.6" fill="#5d6e84"/>
<rect x="282.15" y="436.2" width="1.5" height="13.7" fill="#5d6e84"/>
<rect x="285.05" y="441.4" width="1.5" height="13.4" fill="#5d6e84"/>
<rect x="300.95" y="434.8" width="1.5" height="13.7" fill="#5d6e84"/>
<rect x="302.75" y="434.2" width="1.5" height="14.3" fill="#5d6e84"/>
<rect x="311.25" y="423.4" width="1.5" height="13.7" fill="#5d6e84"/>
<path d="M520.2,505.5V503.9H522.1V505.5ZM522.1,505.5V499.3H524.9V505.5ZM537.2,505.5V503.9H539.5V505.5ZM541,505.5V502.2H543.5V505.5ZM547.2,505.5V503.9H553.5V505.5ZM553.5,505.5V502.2H555.4V505.5ZM555.4,505.5V497.8H557.3V505.5ZM557.3,505.5V499.3H559.5V505.5ZM559.5,505.5V488.4H561.7V505.5ZM561.7,505.5V484H563.8V505.5ZM563.8,505.5V476.5H565.8V505.5ZM565.8,505.5V464.2H568.3V505.5ZM568.3,505.5V471.7H570.2V505.5ZM570.2,505.5V436.8H572.4V505.5ZM572.4,505.5V416.5H574.3V505.5ZM574.3,505.5V379.8H576.2V505.5ZM576.2,505.5V367.2H580.6V505.5ZM580.6,505.5V372.1H582.2V505.5ZM582.2,505.5V373.5H584.4V505.5ZM584.4,505.5V390.9H586.9V505.5ZM586.9,505.5V426.2H589V505.5ZM589,505.5V421.4H591.5V505.5ZM591.5,505.5V437.3H593.3V505.5ZM593.3,505.5V456.5H595.4V505.5ZM595.4,505.5V467.2H597.5V505.5ZM597.5,505.5V476.2H599.6V505.5ZM599.6,505.5V491.4H602V505.5ZM602,505.5V498.5H604.3V505.5ZM604.3,505.5V501.2H606.8V505.5ZM606.8,505.5V503H609.1V505.5ZM609.1,505.5V504.3H613.6V505.5ZM613.6,505.5V499.4H616.3V505.5ZM616.3,505.5V503.5H618V505.5ZM618,505.5V502.5H620V505.5ZM620,505.5V504.3H626V505.5ZM626,505.5V504H631V505.5ZM631,505.5V503.3H640V505.5ZM640,505.5V503.6H650V505.5ZM666,505.5V504.3H668.5V505.5Z" fill="#f0e68c" stroke="none"/>
<polyline points="520.2,505.5 520.2,503.9 522.1,503.9 522.1,499.3 524.9,499.3 524.9,505.5" fill="none" stroke="#c9bb5a" stroke-width="0.9"/>
<polyline points="537.2,505.5 537.2,503.9 539.5,503.9 539.5,505.5" fill="none" stroke="#c9bb5a" stroke-width="0.9"/>
<polyline points="541,505.5 541,502.2 543.5,502.2 543.5,505.5" fill="none" stroke="#c9bb5a" stroke-width="0.9"/>
<polyline points="547.2,505.5 547.2,503.9 553.5,503.9 553.5,502.2 555.4,502.2 555.4,497.8 557.3,497.8 557.3,499.3 559.5,499.3 559.5,488.4 561.7,488.4 561.7,484 563.8,484 563.8,476.5 565.8,476.5 565.8,464.2 568.3,464.2 568.3,471.7 570.2,471.7 570.2,436.8 572.4,436.8 572.4,416.5 574.3,416.5 574.3,379.8 576.2,379.8 576.2,367.2 580.6,367.2 580.6,372.1 582.2,372.1 582.2,373.5 584.4,373.5 584.4,390.9 586.9,390.9 586.9,426.2 589,426.2 589,421.4 591.5,421.4 591.5,437.3 593.3,437.3 593.3,456.5 595.4,456.5 595.4,467.2 597.5,467.2 597.5,476.2 599.6,476.2 599.6,491.4 602,491.4 602,498.5 604.3,498.5 604.3,501.2 606.8,501.2 606.8,503 609.1,503 609.1,504.3 613.6,504.3 613.6,499.4 616.3,499.4 616.3,503.5 618,503.5 618,502.5 620,502.5 620,504.3 626,504.3 626,504 631,504 631,503.3 640,503.3 640,503.6 650,503.6 650,505.5" fill="none" stroke="#c9bb5a" stroke-width="0.9"/>
<polyline points="666,505.5 666,504.3 668.5,504.3 668.5,505.5" fill="none" stroke="#c9bb5a" stroke-width="0.9"/>
<line x1="581.3" y1="360.5" x2="581.3" y2="505.5" stroke="#a4b2c2" stroke-width="0.6"/>
<polyline points="492.8,495.3 493.65,494.15 494.5,494.1 495.45,494.1 496.4,493.4 497.35,492.76 498.3,492.2 498.9,490.9 500.2,492.8 501.45,492.13 502.7,492.6 503.95,493 505.2,494.7 506.45,494.22 507.7,495.3 508.65,495.78 509.6,496.6 510.83,496.93 512.07,498.8 513.3,499.3 514.37,498.55 515.43,496.69 516.5,494.7 517.53,493.31 518.57,491.45 519.6,490.3 520.85,488.36 522.1,487.2 523.35,483.93 524.6,482.1 525.85,480.29 527.1,477.7 528.05,478.77 529,478.7 530.25,477.98 531.5,475.9 532.45,475.07 533.4,474 534.35,474.92 535.3,475.2 536.55,476.76 537.8,477.1 538.75,475.91 539.7,476.5 540.65,472.88 541.6,469.6 542.63,467.86 543.67,465.83 544.7,465.2 545.65,464.01 546.6,462.7 547.55,455.52 548.5,450.1 549.75,447.14 551,445.1 552.25,442.34 553.5,438.8 555,434.4 555.95,430.4 556.9,427.6 557.87,426.5 558.83,425.04 559.8,423.3 560.77,422.5 561.73,422.54 562.7,422.8 563.9,424.29 565.1,425.5 566.23,421.85 567.37,418.52 568.5,414.6 569.47,413 570.43,413.22 571.4,411.2 572.5,409.94 573.6,407.89 574.7,406.86 575.8,405.4 576.75,406.46 577.7,408.3 578.65,406.12 579.6,404.9 580.45,403.27 581.3,401.1 582.15,402.52 583,405.4 583.95,406.1 584.9,407.8 586.1,407.8 587.3,409.3 588.27,410.69 589.23,412.69 590.2,413.6 591.2,414.5 592.2,413.6 593.28,414.88 594.35,415.81 595.42,417.12 596.5,418.9 597.47,421.1 598.43,420.7 599.4,422.8 600.57,424.99 601.73,427.06 602.9,428.8 604.07,429.92 605.23,432.09 606.4,434.2 607.6,437.3 608.8,439.24 610,441.3 611.2,444.13 612.4,447.37 613.6,449.4 614.77,450.61 615.93,453.6 617.1,455.6 618.45,457.53 619.8,460.1 621,461.24 622.2,462.7 623.4,464.6 624.6,466.37 625.8,468.27 627,469 628.17,469.99 629.33,470.51 630.5,472.6 631.5,472.12 632.5,472.4 633.55,474.79 634.6,476 635.85,477.95 637.1,481.5 638.1,479.96 639.1,479 640.1,480.97 641.1,482.5 642.13,483.95 643.17,484.32 644.2,486.1 645.7,481.5 646.7,483.01 647.7,484.1 649.2,492.7 650.25,494.55 651.3,494.7 652.3,497.45 653.3,499.8 654.3,502.84 655.3,504.8 656.3,503.31 657.3,503.3 658.35,503.59 659.4,504.3" fill="none" stroke="#677d97" stroke-width="1.1" stroke-linejoin="miter"/>
<rect x="70.15" y="613" width="1.7" height="14" fill="#a020f0"/>
<rect x="72.25" y="614.5" width="1.7" height="15.9" fill="#a020f0"/>
<rect x="74.35" y="616.1" width="1.7" height="13.1" fill="#a020f0"/>
<rect x="77.55" y="629.2" width="1.7" height="13.2" fill="#a020f0"/>
<rect x="79.25" y="619" width="1.7" height="8.5" fill="#ff0000"/>
<rect x="81.55" y="609.3" width="1.7" height="4.5" fill="#551a8b"/>
<rect x="83.55" y="617.3" width="1.7" height="6.2" fill="#a020f0"/>
<rect x="84.35" y="616.1" width="1.7" height="11.4" fill="#ff0000"/>
<rect x="86.65" y="620.1" width="1.7" height="6.3" fill="#a020f0"/>
<rect x="89.75" y="612.1" width="1.7" height="8.6" fill="#ff0000"/>
<rect x="94.95" y="620.7" width="1.7" height="8.5" fill="#a020f0"/>
<rect x="96.35" y="621.5" width="1.7" height="7" fill="#a020f0"/>
<rect x="97.25" y="604.7" width="1.7" height="8.6" fill="#ff0000"/>
<rect x="98.45" y="611" width="1.7" height="8" fill="#ff0000"/>
<rect x="99.55" y="621.8" width="1.7" height="8.6" fill="#ff0000"/>
<rect x="102.65" y="609.3" width="1.7" height="13.7" fill="#a020f0"/>
<rect x="103.75" y="613.8" width="1.7" height="8.6" fill="#ff0000"/>
<rect x="105.55" y="627" width="1.7" height="10.8" fill="#ff0000"/>
<rect x="108.75" y="619.5" width="1.7" height="6.3" fill="#ff0000"/>
<rect x="110.15" y="620.7" width="1.7" height="15.4" fill="#ff0000"/>
<rect x="113.55" y="619" width="1.7" height="5.1" fill="#ff0000"/>
<rect x="114.95" y="609.8" width="1.7" height="8" fill="#ff0000"/>
<rect x="117.75" y="613.3" width="1.7" height="5.1" fill="#ff0000"/>
<rect x="120.65" y="625.8" width="1.7" height="16" fill="#ff0000"/>
<rect x="122.05" y="626.4" width="1.7" height="5.1" fill="#a020f0"/>
<rect x="124.05" y="632.1" width="1.7" height="4.6" fill="#a020f0"/>
<rect x="126.85" y="619.5" width="1.7" height="5.2" fill="#ff0000"/>
<rect x="128.15" y="622.4" width="1.7" height="6.8" fill="#551a8b"/>
<rect x="129.45" y="624.7" width="1.7" height="17.7" fill="#ff0000"/>
<rect x="130.35" y="626" width="1.7" height="14" fill="#ff0000"/>
<rect x="131.15" y="628.1" width="1.7" height="12.6" fill="#ff0000"/>
<rect x="132.85" y="617.8" width="1.7" height="6.9" fill="#ff0000"/>
<rect x="132.35" y="629.2" width="1.7" height="17.2" fill="#ff0000"/>
<rect x="132.55" y="617.3" width="1.7" height="6.8" fill="#ff0000"/>
<rect x="132.05" y="632.7" width="1.7" height="13.7" fill="#ff0000"/>
<rect x="134.65" y="627.5" width="1.7" height="16.6" fill="#a020f0"/>
<rect x="135.95" y="620.1" width="1.7" height="9.1" fill="#ff0000"/>
<rect x="137.15" y="625.8" width="1.7" height="6.9" fill="#ff0000"/>
<rect x="138.05" y="630.4" width="1.7" height="6.3" fill="#551a8b"/>
<rect x="138.85" y="616.1" width="1.7" height="13.1" fill="#ff0000"/>
<rect x="139.95" y="617.8" width="1.7" height="12.6" fill="#551a8b"/>
<rect x="139.45" y="632.7" width="1.7" height="9.1" fill="#ff0000"/>
<rect x="141.15" y="625.2" width="1.7" height="4" fill="#ff0000"/>
<rect x="142.25" y="631" width="1.7" height="7.4" fill="#ff0000"/>
<rect x="143.95" y="631.5" width="1.7" height="3.5" fill="#ff0000"/>
<rect x="145.65" y="624.7" width="1.7" height="4.5" fill="#ff0000"/>
<rect x="146.85" y="636.1" width="1.7" height="2.9" fill="#ff0000"/>
<rect x="148.55" y="640.7" width="1.7" height="2.2" fill="#ff0000"/>
<rect x="150.25" y="645.8" width="1.7" height="2.8" fill="#ff0000"/>
<rect x="151.45" y="647.5" width="1.7" height="6.9" fill="#551a8b"/>
<rect x="152.55" y="645.2" width="1.7" height="6.9" fill="#ff0000"/>
<rect x="154.25" y="642.9" width="1.7" height="8" fill="#551a8b"/>
<rect x="155.15" y="639.5" width="1.7" height="4.6" fill="#551a8b"/>
<rect x="155.75" y="649.8" width="1.7" height="4.6" fill="#ff0000"/>
<rect x="153.65" y="653.8" width="1.7" height="4" fill="#ff0000"/>
<rect x="156.45" y="663.5" width="1.7" height="6.5" fill="#ff0000"/>
<rect x="163.35" y="630.4" width="1.7" height="9.1" fill="#ff0000"/>
<rect x="162.25" y="645.8" width="1.7" height="12.6" fill="#ff0000"/>
<rect x="163.95" y="654.9" width="1.7" height="6.3" fill="#33cc33"/>
<rect x="166.25" y="639.5" width="1.7" height="8.6" fill="#ff0000"/>
<rect x="167.15" y="640.1" width="1.7" height="6.3" fill="#551a8b"/>
<rect x="167.95" y="633.8" width="1.7" height="5.7" fill="#ff0000"/>
<rect x="166.85" y="638.5" width="1.7" height="2" fill="#33cc33"/>
<rect x="169.15" y="650.4" width="1.7" height="8" fill="#ff0000"/>
<rect x="175.35" y="640.1" width="1.7" height="8.5" fill="#a020f0"/>
<rect x="180.15" y="639" width="1.7" height="2.8" fill="#33cc33"/>
<rect x="181.85" y="640.7" width="1.7" height="6.2" fill="#551a8b"/>
<rect x="183.75" y="627" width="1.7" height="4.5" fill="#551a8b"/>
<rect x="183.75" y="635" width="1.7" height="7.9" fill="#a020f0"/>
<rect x="184.55" y="639" width="1.7" height="5.1" fill="#551a8b"/>
<rect x="185.65" y="627" width="1.7" height="7.4" fill="#a020f0"/>
<rect x="187.15" y="616.7" width="1.7" height="2.8" fill="#33cc33"/>
<rect x="189.25" y="609.3" width="1.7" height="18.8" fill="#a020f0"/>
<rect x="190.75" y="616.1" width="1.7" height="4" fill="#33cc33"/>
<rect x="191.75" y="628.1" width="1.7" height="14.8" fill="#a020f0"/>
<rect x="192.25" y="623.5" width="1.7" height="5.7" fill="#a020f0"/>
<rect x="197.65" y="629.2" width="1.7" height="6.3" fill="#ff00ff"/>
<rect x="198.95" y="628.7" width="1.7" height="5.1" fill="#ff00ff"/>
<rect x="200.45" y="631.5" width="1.7" height="5.2" fill="#551a8b"/>
<rect x="198.15" y="646.4" width="1.7" height="5.1" fill="#a020f0"/>
<rect x="200.45" y="647.5" width="1.7" height="5.7" fill="#a020f0"/>
<rect x="199.65" y="641.8" width="1.7" height="4.6" fill="#551a8b"/>
<rect x="202.45" y="640.1" width="1.7" height="4.6" fill="#ff00ff"/>
<rect x="204.35" y="640.1" width="1.7" height="5.1" fill="#ff00ff"/>
<rect x="208.85" y="640.1" width="1.7" height="6.3" fill="#a020f0"/>
<rect x="208.85" y="658.5" width="1.7" height="2" fill="#33cc33"/>
<rect x="209.25" y="639.5" width="1.7" height="6.9" fill="#a020f0"/>
<rect x="209.25" y="658.5" width="1.7" height="2" fill="#33cc33"/>
<rect x="211.55" y="641.2" width="1.7" height="5.2" fill="#551a8b"/>
<rect x="212.75" y="647.5" width="1.7" height="7.4" fill="#a020f0"/>
<rect x="213.85" y="644.1" width="1.7" height="6.8" fill="#551a8b"/>
<rect x="214.95" y="643.5" width="1.7" height="2.3" fill="#33cc33"/>
<rect x="216.75" y="636.1" width="1.7" height="11.4" fill="#a020f0"/>
<rect x="215.95" y="646.4" width="1.7" height="6.2" fill="#551a8b"/>
<rect x="218.45" y="634.4" width="1.7" height="5.1" fill="#33cc33"/>
<rect x="214.95" y="658.9" width="1.7" height="5.7" fill="#ff00ff"/>
<rect x="221.25" y="637.8" width="1.7" height="3.4" fill="#33cc33"/>
<rect x="222.95" y="644.1" width="1.7" height="8" fill="#551a8b"/>
<rect x="224.15" y="639" width="1.7" height="5.1" fill="#551a8b"/>
<rect x="226.45" y="642.9" width="1.7" height="8" fill="#ff0000"/>
<rect x="225.85" y="645.2" width="1.7" height="6.3" fill="#a020f0"/>
<rect x="228.65" y="645.2" width="1.7" height="4.6" fill="#a020f0"/>
<rect x="230.95" y="639" width="1.7" height="6.2" fill="#a020f0"/>
<rect x="230.95" y="646.4" width="1.7" height="8.5" fill="#551a8b"/>
<rect x="233.25" y="646.4" width="1.7" height="5.7" fill="#a020f0"/>
<rect x="237.85" y="652.1" width="1.7" height="5.1" fill="#551a8b"/>
<rect x="238.95" y="646.9" width="1.7" height="4" fill="#551a8b"/>
<rect x="240.15" y="649.8" width="1.7" height="5.7" fill="#ff00ff"/>
<rect x="240.85" y="639" width="1.7" height="6.8" fill="#a020f0"/>
<rect x="243.85" y="631.5" width="1.7" height="7.4" fill="#551a8b"/>
<rect x="244.65" y="653.2" width="1.7" height="4.6" fill="#228b22"/>
<rect x="244.65" y="657.8" width="1.7" height="10.7" fill="#a020f0"/>
<rect x="246.15" y="638.4" width="1.7" height="9.7" fill="#551a8b"/>
<rect x="246.95" y="637.8" width="1.7" height="7.4" fill="#a020f0"/>
<rect x="248.65" y="637.2" width="1.7" height="2.9" fill="#33cc33"/>
<rect x="250.05" y="635.5" width="1.7" height="8" fill="#551a8b"/>
<rect x="250.05" y="648.1" width="1.7" height="15.4" fill="#a020f0"/>
<rect x="252.95" y="646.4" width="1.7" height="5.1" fill="#a020f0"/>
<rect x="254.95" y="636.8" width="1.7" height="2" fill="#33cc33"/>
<rect x="267.15" y="641.8" width="1.7" height="10.8" fill="#ff0000"/>
<rect x="276.25" y="628.1" width="1.7" height="12.6" fill="#a020f0"/>
<rect x="277.15" y="645.2" width="1.7" height="11.4" fill="#a020f0"/>
<rect x="281.15" y="629.8" width="1.7" height="8.6" fill="#a020f0"/>
<rect x="281.25" y="629.2" width="1.7" height="9.7" fill="#a020f0"/>
<rect x="283.15" y="644.1" width="1.7" height="8.5" fill="#ff0000"/>
<rect x="285.05" y="632.1" width="1.7" height="9.1" fill="#a020f0"/>
<rect x="286.25" y="638.4" width="1.7" height="8" fill="#ff0000"/>
<rect x="288.25" y="632.1" width="1.7" height="10.8" fill="#ff00ff"/>
<rect x="290.25" y="638.4" width="1.7" height="8" fill="#ff0000"/>
<rect x="293.45" y="648.1" width="1.7" height="7.4" fill="#ff00ff"/>
<rect x="303.35" y="641.8" width="1.7" height="10.3" fill="#a020f0"/>
<rect x="305.15" y="636.7" width="1.7" height="5.1" fill="#33cc33"/>
<rect x="325.75" y="635" width="1.7" height="10.2" fill="#ff00ff"/>
<rect x="87.45" y="726.6" width="1.5" height="6.3" fill="#5d6e84"/>
<rect x="108.05" y="729.2" width="1.5" height="6.3" fill="#5d6e84"/>
<rect x="113.95" y="731.7" width="1.5" height="6" fill="#5d6e84"/>
<rect x="118.25" y="727.8" width="1.5" height="6" fill="#5d6e84"/>
<rect x="124.05" y="709.8" width="1.5" height="6.9" fill="#5d6e84"/>
<rect x="129.25" y="696.1" width="1.5" height="7.7" fill="#5d6e84"/>
<rect x="127.15" y="737.7" width="1.5" height="5.8" fill="#5d6e84"/>
<rect x="140.05" y="729.2" width="1.5" height="6.3" fill="#5d6e84"/>
<rect x="142.95" y="729.5" width="1.5" height="6" fill="#5d6e84"/>
<rect x="146.35" y="730.4" width="1.5" height="6.8" fill="#5d6e84"/>
<rect x="150.25" y="748" width="1.5" height="5.8" fill="#5d6e84"/>
<rect x="158.35" y="750.9" width="1.5" height="6" fill="#5d6e84"/>
<rect x="157.45" y="774" width="1.5" height="6" fill="#5d6e84"/>
<rect x="165.35" y="743.2" width="1.5" height="5.1" fill="#5d6e84"/>
<rect x="167.45" y="738.4" width="1.5" height="5.7" fill="#5d6e84"/>
<rect x="166.55" y="751.4" width="1.5" height="5.8" fill="#5d6e84"/>
<rect x="171.65" y="756.9" width="1.5" height="5.5" fill="#5d6e84"/>
<rect x="175.65" y="758.6" width="1.5" height="5.1" fill="#5d6e84"/>
<rect x="177.35" y="753.5" width="1.5" height="5.4" fill="#5d6e84"/>
<rect x="184.85" y="767.2" width="1.5" height="5.4" fill="#5d6e84"/>
<rect x="187.45" y="737.7" width="1.5" height="6.4" fill="#5d6e84"/>
<rect x="198.75" y="722.3" width="1.5" height="6.3" fill="#5d6e84"/>
<rect x="202.85" y="717" width="1.5" height="6.5" fill="#5d6e84"/>
<rect x="211.85" y="691.8" width="1.5" height="7.7" fill="#5d6e84"/>
<rect x="225.95" y="721.3" width="1.5" height="6.5" fill="#5d6e84"/>
<rect x="224.25" y="731.2" width="1.5" height="6.5" fill="#5d6e84"/>
<rect x="245.05" y="729.2" width="1.5" height="6.6" fill="#5d6e84"/>
<rect x="237.05" y="768.5" width="1.5" height="5.5" fill="#5d6e84"/>
<rect x="240.95" y="769.2" width="1.5" height="5.3" fill="#5d6e84"/>
<rect x="253.15" y="773.7" width="1.5" height="5.4" fill="#5d6e84"/>
<rect x="265.25" y="758.3" width="1.5" height="5.4" fill="#5d6e84"/>
<rect x="268.35" y="753.1" width="1.5" height="5.8" fill="#5d6e84"/>
<rect x="285.45" y="768.5" width="1.5" height="5.5" fill="#5d6e84"/>
<rect x="287.55" y="764.9" width="1.5" height="6.2" fill="#5d6e84"/>
<rect x="296.65" y="760.8" width="1.5" height="6" fill="#5d6e84"/>
<path d="M549.7,789.7V788.6H553.5V789.7ZM557,789.7V788.6H562V789.7ZM563,789.7V788.6H568V789.7ZM570,789.7V788.6H572.7V789.7ZM572.7,789.7V772.7H576.2V789.7ZM576.2,789.7V753.9H578V789.7ZM578,789.7V761.1H581.1V789.7ZM581.1,789.7V742.3H583.9V789.7ZM583.9,789.7V745H586.4V789.7ZM586.4,789.7V773.6H588.2V789.7ZM588.2,789.7V778.9H591.1V789.7ZM591.1,789.7V767.3H594.1V789.7ZM594.1,789.7V781.6H595.9V789.7ZM595.9,789.7V778.9H598.6V789.7ZM598.6,789.7V781.6H601.3V789.7ZM601.3,789.7V785.2H603.9V789.7ZM603.9,789.7V766.4H606.6V789.7ZM606.6,789.7V769.1H608.9V789.7ZM608.9,789.7V777.2H612V789.7ZM612,789.7V772.7H617.3V789.7ZM617.3,789.7V750.3H620V789.7ZM620,789.7V743.2H622.1V789.7ZM622.1,789.7V728.9H624.5V789.7ZM624.5,789.7V719.1H627.1V789.7ZM627.1,789.7V651.1H630.7V789.7ZM630.7,789.7V665.4H632.9V789.7ZM632.9,789.7V719.1H635.2V789.7ZM635.2,789.7V745.9H637.9V789.7ZM637.9,789.7V760.2H640V789.7ZM640,789.7V771.8H641.8V789.7ZM641.8,789.7V780.7H645V789.7ZM645,789.7V783.4H648.2V789.7ZM648.2,789.7V787H650V789.7ZM656,789.7V788.6H664V789.7Z" fill="#f0e68c" stroke="none"/>
<polyline points="549.7,789.7 549.7,788.6 553.5,788.6 553.5,789.7" fill="none" stroke="#c9bb5a" stroke-width="0.9"/>
<polyline points="557,789.7 557,788.6 562,788.6 562,789.7" fill="none" stroke="#c9bb5a" stroke-width="0.9"/>
<polyline points="563,789.7 563,788.6 568,788.6 568,789.7" fill="none" stroke="#c9bb5a" stroke-width="0.9"/>
<polyline points="570,789.7 570,788.6 572.7,788.6 572.7,772.7 576.2,772.7 576.2,753.9 578,753.9 578,761.1 581.1,761.1 581.1,742.3 583.9,742.3 583.9,745 586.4,745 586.4,773.6 588.2,773.6 588.2,778.9 591.1,778.9 591.1,767.3 594.1,767.3 594.1,781.6 595.9,781.6 595.9,778.9 598.6,778.9 598.6,781.6 601.3,781.6 601.3,785.2 603.9,785.2 603.9,766.4 606.6,766.4 606.6,769.1 608.9,769.1 608.9,777.2 612,777.2 612,772.7 617.3,772.7 617.3,750.3 620,750.3 620,743.2 622.1,743.2 622.1,728.9 624.5,728.9 624.5,719.1 627.1,719.1 627.1,651.1 630.7,651.1 630.7,665.4 632.9,665.4 632.9,719.1 635.2,719.1 635.2,745.9 637.9,745.9 637.9,760.2 640,760.2 640,771.8 641.8,771.8 641.8,780.7 645,780.7 645,783.4 648.2,783.4 648.2,787 650,787 650,789.7" fill="none" stroke="#c9bb5a" stroke-width="0.9"/>
<polyline points="656,789.7 656,788.6 664,788.6 664,789.7" fill="none" stroke="#c9bb5a" stroke-width="0.9"/>
<line x1="624.5" y1="644.7" x2="624.5" y2="789.7" stroke="#a4b2c2" stroke-width="0.6"/>
<polyline points="525.9,789.7 527.15,786.81 528.4,784.1 529.35,785.24 530.3,786.6 531.27,783.27 532.23,782.08 533.2,779.1 534.55,780.96 535.9,782.2 536.97,780.01 538.03,777.15 539.1,774.7 540.05,775.31 541,775.3 542.1,776.64 543.2,776.6 544.2,772.85 545.2,768.12 546.2,765.02 547.2,760.2 548.13,760.3 549.07,760.32 550,761.5 551.25,756.95 552.5,753.3 553.47,757.93 554.43,763.22 555.4,767.2 556.65,765.33 557.9,764 558.93,760.32 559.97,755.65 561,752.1 562.15,755.95 563.3,761.5 564.23,758.59 565.17,754.1 566.1,750.2 567.2,747.63 568.3,745.2 569.4,746.12 570.5,746.4 571.75,738.84 573,732.6 574.3,728.28 575.6,722.6 576.8,726.74 578,731.6 579.12,732.65 580.25,731.45 581.38,732.21 582.5,732.5 583.62,730.58 584.75,729.56 585.88,726.98 587,726.2 588.17,725.7 589.33,726.48 590.5,727.1 591.7,728.4 592.9,731.86 594.1,733.4 595.23,734.49 596.35,736.6 597.48,738.77 598.6,740.5 599.95,734.46 601.3,729.8 602.47,728.81 603.63,725.83 604.8,724.4 605.92,723.64 607.05,722.13 608.17,721.32 609.3,720.9 610.42,724.26 611.55,727.52 612.67,730.8 613.8,733.4 614.8,733.01 615.8,731.78 616.8,729.8 617.87,726.13 618.93,721.8 620,719.1 621.35,717.38 622.7,716.9 624.05,718.68 625.4,719.1 626.7,719.51 628,718.2 629.2,718.59 630.4,717.92 631.6,719.1 632.95,719.59 634.3,720.9 635.65,719.53 637,717.3 638.3,719.39 639.6,722.6 640.8,724.27 642,726.8 643.25,730.17 644.5,733.8 645.9,744.7 647.4,748.1 648.65,745.27 649.9,741.7 651.15,739.9 652.4,737.2 653.65,738.52 654.9,740.2 655.87,740.96 656.83,742.23 657.8,743.2 658.8,742.63 659.8,743.07 660.8,741.7 661.8,744.93 662.8,749.6 663.93,751.06 665.07,752.63 666.2,754.6 667.45,758.56 668.7,762.5 669.7,764.44 670.7,765.64 671.7,766.4 672.95,769.61 674.2,772.4 675.4,777.61 676.6,783.3 677.6,782.15 678.6,781.2 679.6,779.3 680.6,780.41 681.6,782.03 682.6,782.3 683.8,782.2 685,783.8 686,782.56 687,781.3 688.25,786 689.5,789.2 690.75,789.31 692,789.2 693,787.78 694,785.01 695,783.3 695.95,786.63 696.9,788.2 698.15,788.14 699.4,789.2" fill="none" stroke="#677d97" stroke-width="1.1" stroke-linejoin="miter"/>
<text transform="translate(239.6,8.95) scale(1.0,1.05)" font-size="12.2" text-anchor="middle" fill="#000" stroke="#000" stroke-width="0.2" >PG2214+139</text>
<rect x="51.2" y="14.1" width="376.3" height="202.4" fill="none" stroke="#000" stroke-width="1.5"/>
<line x1="51.2" y1="115.4" x2="427.5" y2="115.4" stroke="#000" stroke-width="1.5" />
<line x1="51.2" y1="23.4" x2="58.2" y2="23.4" stroke="#000" stroke-width="1.35" />
<line x1="420.5" y1="23.4" x2="427.5" y2="23.4" stroke="#000" stroke-width="1.35" />
<text transform="translate(46.9,28.15) scale(1.0,1.065)" font-size="14.4" text-anchor="end" fill="#000" stroke="#000" stroke-width="0.2" >5.2</text>
<line x1="51.2" y1="43.25" x2="58.2" y2="43.25" stroke="#000" stroke-width="1.35" />
<line x1="420.5" y1="43.25" x2="427.5" y2="43.25" stroke="#000" stroke-width="1.35" />
<text transform="translate(46.9,48) scale(1.0,1.065)" font-size="14.4" text-anchor="end" fill="#000" stroke="#000" stroke-width="0.2" >5.0</text>
<line x1="51.2" y1="63.1" x2="58.2" y2="63.1" stroke="#000" stroke-width="1.35" />
<line x1="420.5" y1="63.1" x2="427.5" y2="63.1" stroke="#000" stroke-width="1.35" />
<text transform="translate(46.9,67.85) scale(1.0,1.065)" font-size="14.4" text-anchor="end" fill="#000" stroke="#000" stroke-width="0.2" >4.8</text>
<line x1="51.2" y1="82.95" x2="58.2" y2="82.95" stroke="#000" stroke-width="1.35" />
<line x1="420.5" y1="82.95" x2="427.5" y2="82.95" stroke="#000" stroke-width="1.35" />
<text transform="translate(46.9,87.7) scale(1.0,1.065)" font-size="14.4" text-anchor="end" fill="#000" stroke="#000" stroke-width="0.2" >4.6</text>
<line x1="51.2" y1="102.8" x2="58.2" y2="102.8" stroke="#000" stroke-width="1.35" />
<line x1="420.5" y1="102.8" x2="427.5" y2="102.8" stroke="#000" stroke-width="1.35" />
<text transform="translate(46.9,107.55) scale(1.0,1.065)" font-size="14.4" text-anchor="end" fill="#000" stroke="#000" stroke-width="0.2" >4.4</text>
<line x1="51.2" y1="126.9" x2="58.2" y2="126.9" stroke="#000" stroke-width="1.35" />
<line x1="420.5" y1="126.9" x2="427.5" y2="126.9" stroke="#000" stroke-width="1.35" />
<text transform="translate(46.9,131.65) scale(1.0,1.065)" font-size="14.4" text-anchor="end" fill="#000" stroke="#000" stroke-width="0.2" >620</text>
<line x1="51.2" y1="141.13" x2="58.2" y2="141.13" stroke="#000" stroke-width="1.35" />
<line x1="420.5" y1="141.13" x2="427.5" y2="141.13" stroke="#000" stroke-width="1.35" />
<text transform="translate(46.9,145.88) scale(1.0,1.065)" font-size="14.4" text-anchor="end" fill="#000" stroke="#000" stroke-width="0.2" >600</text>
<line x1="51.2" y1="155.36" x2="58.2" y2="155.36" stroke="#000" stroke-width="1.35" />
<line x1="420.5" y1="155.36" x2="427.5" y2="155.36" stroke="#000" stroke-width="1.35" />
<text transform="translate(46.9,160.11) scale(1.0,1.065)" font-size="14.4" text-anchor="end" fill="#000" stroke="#000" stroke-width="0.2" >580</text>
<line x1="51.2" y1="169.59" x2="58.2" y2="169.59" stroke="#000" stroke-width="1.35" />
<line x1="420.5" y1="169.59" x2="427.5" y2="169.59" stroke="#000" stroke-width="1.35" />
<text transform="translate(46.9,174.34) scale(1.0,1.065)" font-size="14.4" text-anchor="end" fill="#000" stroke="#000" stroke-width="0.2" >560</text>
<line x1="51.2" y1="183.82" x2="58.2" y2="183.82" stroke="#000" stroke-width="1.35" />
<line x1="420.5" y1="183.82" x2="427.5" y2="183.82" stroke="#000" stroke-width="1.35" />
<text transform="translate(46.9,188.57) scale(1.0,1.065)" font-size="14.4" text-anchor="end" fill="#000" stroke="#000" stroke-width="0.2" >540</text>
<line x1="51.2" y1="198.05" x2="58.2" y2="198.05" stroke="#000" stroke-width="1.35" />
<line x1="420.5" y1="198.05" x2="427.5" y2="198.05" stroke="#000" stroke-width="1.35" />
<text transform="translate(46.9,202.8) scale(1.0,1.065)" font-size="14.4" text-anchor="end" fill="#000" stroke="#000" stroke-width="0.2" >520</text>
<line x1="51.2" y1="212.28" x2="58.2" y2="212.28" stroke="#000" stroke-width="1.35" />
<line x1="420.5" y1="212.28" x2="427.5" y2="212.28" stroke="#000" stroke-width="1.35" />
<text transform="translate(46.9,217.03) scale(1.0,1.065)" font-size="14.4" text-anchor="end" fill="#000" stroke="#000" stroke-width="0.2" >500</text>
<line x1="54.24" y1="14.1" x2="54.24" y2="15.4" stroke="#000" stroke-width="1" />
<line x1="54.24" y1="115.4" x2="54.24" y2="114.1" stroke="#000" stroke-width="1" />
<line x1="54.24" y1="115.4" x2="54.24" y2="116.7" stroke="#000" stroke-width="1" />
<line x1="54.24" y1="216.5" x2="54.24" y2="215.2" stroke="#000" stroke-width="1" />
<line x1="64.89" y1="14.1" x2="64.89" y2="15.4" stroke="#000" stroke-width="1" />
<line x1="64.89" y1="115.4" x2="64.89" y2="114.1" stroke="#000" stroke-width="1" />
<line x1="64.89" y1="115.4" x2="64.89" y2="116.7" stroke="#000" stroke-width="1" />
<line x1="64.89" y1="216.5" x2="64.89" y2="215.2" stroke="#000" stroke-width="1" />
<line x1="75.53" y1="14.1" x2="75.53" y2="15.4" stroke="#000" stroke-width="1" />
<line x1="75.53" y1="115.4" x2="75.53" y2="114.1" stroke="#000" stroke-width="1" />
<line x1="75.53" y1="115.4" x2="75.53" y2="116.7" stroke="#000" stroke-width="1" />
<line x1="75.53" y1="216.5" x2="75.53" y2="215.2" stroke="#000" stroke-width="1" />
<line x1="86.18" y1="14.1" x2="86.18" y2="15.4" stroke="#000" stroke-width="1" />
<line x1="86.18" y1="115.4" x2="86.18" y2="114.1" stroke="#000" stroke-width="1" />
<line x1="86.18" y1="115.4" x2="86.18" y2="116.7" stroke="#000" stroke-width="1" />
<line x1="86.18" y1="216.5" x2="86.18" y2="215.2" stroke="#000" stroke-width="1" />
<line x1="96.82" y1="14.1" x2="96.82" y2="15.4" stroke="#000" stroke-width="1" />
<line x1="96.82" y1="115.4" x2="96.82" y2="114.1" stroke="#000" stroke-width="1" />
<line x1="96.82" y1="115.4" x2="96.82" y2="116.7" stroke="#000" stroke-width="1" />
<line x1="96.82" y1="216.5" x2="96.82" y2="215.2" stroke="#000" stroke-width="1" />
<line x1="107.47" y1="14.1" x2="107.47" y2="15.4" stroke="#000" stroke-width="1" />
<line x1="107.47" y1="115.4" x2="107.47" y2="114.1" stroke="#000" stroke-width="1" />
<line x1="107.47" y1="115.4" x2="107.47" y2="116.7" stroke="#000" stroke-width="1" />
<line x1="107.47" y1="216.5" x2="107.47" y2="215.2" stroke="#000" stroke-width="1" />
<line x1="118.11" y1="14.1" x2="118.11" y2="15.4" stroke="#000" stroke-width="1" />
<line x1="118.11" y1="115.4" x2="118.11" y2="114.1" stroke="#000" stroke-width="1" />
<line x1="118.11" y1="115.4" x2="118.11" y2="116.7" stroke="#000" stroke-width="1" />
<line x1="118.11" y1="216.5" x2="118.11" y2="215.2" stroke="#000" stroke-width="1" />
<line x1="128.75" y1="14.1" x2="128.75" y2="15.4" stroke="#000" stroke-width="1" />
<line x1="128.75" y1="115.4" x2="128.75" y2="114.1" stroke="#000" stroke-width="1" />
<line x1="128.75" y1="115.4" x2="128.75" y2="116.7" stroke="#000" stroke-width="1" />
<line x1="128.75" y1="216.5" x2="128.75" y2="215.2" stroke="#000" stroke-width="1" />
<line x1="139.4" y1="14.1" x2="139.4" y2="16.7" stroke="#000" stroke-width="1" />
<line x1="139.4" y1="115.4" x2="139.4" y2="112.8" stroke="#000" stroke-width="1" />
<line x1="139.4" y1="115.4" x2="139.4" y2="118" stroke="#000" stroke-width="1" />
<line x1="139.4" y1="216.5" x2="139.4" y2="213.9" stroke="#000" stroke-width="1" />
<line x1="150.05" y1="14.1" x2="150.05" y2="15.4" stroke="#000" stroke-width="1" />
<line x1="150.05" y1="115.4" x2="150.05" y2="114.1" stroke="#000" stroke-width="1" />
<line x1="150.05" y1="115.4" x2="150.05" y2="116.7" stroke="#000" stroke-width="1" />
<line x1="150.05" y1="216.5" x2="150.05" y2="215.2" stroke="#000" stroke-width="1" />
<line x1="160.69" y1="14.1" x2="160.69" y2="15.4" stroke="#000" stroke-width="1" />
<line x1="160.69" y1="115.4" x2="160.69" y2="114.1" stroke="#000" stroke-width="1" />
<line x1="160.69" y1="115.4" x2="160.69" y2="116.7" stroke="#000" stroke-width="1" />
<line x1="160.69" y1="216.5" x2="160.69" y2="215.2" stroke="#000" stroke-width="1" />
<line x1="171.34" y1="14.1" x2="171.34" y2="15.4" stroke="#000" stroke-width="1" />
<line x1="171.34" y1="115.4" x2="171.34" y2="114.1" stroke="#000" stroke-width="1" />
<line x1="171.34" y1="115.4" x2="171.34" y2="116.7" stroke="#000" stroke-width="1" />
<line x1="171.34" y1="216.5" x2="171.34" y2="215.2" stroke="#000" stroke-width="1" />
<line x1="181.98" y1="14.1" x2="181.98" y2="15.4" stroke="#000" stroke-width="1" />
<line x1="181.98" y1="115.4" x2="181.98" y2="114.1" stroke="#000" stroke-width="1" />
<line x1="181.98" y1="115.4" x2="181.98" y2="116.7" stroke="#000" stroke-width="1" />
<line x1="181.98" y1="216.5" x2="181.98" y2="215.2" stroke="#000" stroke-width="1" />
<line x1="192.62" y1="14.1" x2="192.62" y2="15.4" stroke="#000" stroke-width="1" />
<line x1="192.62" y1="115.4" x2="192.62" y2="114.1" stroke="#000" stroke-width="1" />
<line x1="192.62" y1="115.4" x2="192.62" y2="116.7" stroke="#000" stroke-width="1" />
<line x1="192.62" y1="216.5" x2="192.62" y2="215.2" stroke="#000" stroke-width="1" />
<line x1="203.27" y1="14.1" x2="203.27" y2="15.4" stroke="#000" stroke-width="1" />
<line x1="203.27" y1="115.4" x2="203.27" y2="114.1" stroke="#000" stroke-width="1" />
<line x1="203.27" y1="115.4" x2="203.27" y2="116.7" stroke="#000" stroke-width="1" />
<line x1="203.27" y1="216.5" x2="203.27" y2="215.2" stroke="#000" stroke-width="1" />
<line x1="213.92" y1="14.1" x2="213.92" y2="15.4" stroke="#000" stroke-width="1" />
<line x1="213.92" y1="115.4" x2="213.92" y2="114.1" stroke="#000" stroke-width="1" />
<line x1="213.92" y1="115.4" x2="213.92" y2="116.7" stroke="#000" stroke-width="1" />
<line x1="213.92" y1="216.5" x2="213.92" y2="215.2" stroke="#000" stroke-width="1" />
<line x1="224.56" y1="14.1" x2="224.56" y2="15.4" stroke="#000" stroke-width="1" />
<line x1="224.56" y1="115.4" x2="224.56" y2="114.1" stroke="#000" stroke-width="1" />
<line x1="224.56" y1="115.4" x2="224.56" y2="116.7" stroke="#000" stroke-width="1" />
<line x1="224.56" y1="216.5" x2="224.56" y2="215.2" stroke="#000" stroke-width="1" />
<line x1="235.2" y1="14.1" x2="235.2" y2="15.4" stroke="#000" stroke-width="1" />
<line x1="235.2" y1="115.4" x2="235.2" y2="114.1" stroke="#000" stroke-width="1" />
<line x1="235.2" y1="115.4" x2="235.2" y2="116.7" stroke="#000" stroke-width="1" />
<line x1="235.2" y1="216.5" x2="235.2" y2="215.2" stroke="#000" stroke-width="1" />
<line x1="245.85" y1="14.1" x2="245.85" y2="16.7" stroke="#000" stroke-width="1" />
<line x1="245.85" y1="115.4" x2="245.85" y2="112.8" stroke="#000" stroke-width="1" />
<line x1="245.85" y1="115.4" x2="245.85" y2="118" stroke="#000" stroke-width="1" />
<line x1="245.85" y1="216.5" x2="245.85" y2="213.9" stroke="#000" stroke-width="1" />
<line x1="256.5" y1="14.1" x2="256.5" y2="15.4" stroke="#000" stroke-width="1" />
<line x1="256.5" y1="115.4" x2="256.5" y2="114.1" stroke="#000" stroke-width="1" />
<line x1="256.5" y1="115.4" x2="256.5" y2="116.7" stroke="#000" stroke-width="1" />
<line x1="256.5" y1="216.5" x2="256.5" y2="215.2" stroke="#000" stroke-width="1" />
<line x1="267.14" y1="14.1" x2="267.14" y2="15.4" stroke="#000" stroke-width="1" />
<line x1="267.14" y1="115.4" x2="267.14" y2="114.1" stroke="#000" stroke-width="1" />
<line x1="267.14" y1="115.4" x2="267.14" y2="116.7" stroke="#000" stroke-width="1" />
<line x1="267.14" y1="216.5" x2="267.14" y2="215.2" stroke="#000" stroke-width="1" />
<line x1="277.78" y1="14.1" x2="277.78" y2="15.4" stroke="#000" stroke-width="1" />
<line x1="277.78" y1="115.4" x2="277.78" y2="114.1" stroke="#000" stroke-width="1" />
<line x1="277.78" y1="115.4" x2="277.78" y2="116.7" stroke="#000" stroke-width="1" />
<line x1="277.78" y1="216.5" x2="277.78" y2="215.2" stroke="#000" stroke-width="1" />
<line x1="288.43" y1="14.1" x2="288.43" y2="15.4" stroke="#000" stroke-width="1" />
<line x1="288.43" y1="115.4" x2="288.43" y2="114.1" stroke="#000" stroke-width="1" />
<line x1="288.43" y1="115.4" x2="288.43" y2="116.7" stroke="#000" stroke-width="1" />
<line x1="288.43" y1="216.5" x2="288.43" y2="215.2" stroke="#000" stroke-width="1" />
<line x1="299.07" y1="14.1" x2="299.07" y2="15.4" stroke="#000" stroke-width="1" />
<line x1="299.07" y1="115.4" x2="299.07" y2="114.1" stroke="#000" stroke-width="1" />
<line x1="299.07" y1="115.4" x2="299.07" y2="116.7" stroke="#000" stroke-width="1" />
<line x1="299.07" y1="216.5" x2="299.07" y2="215.2" stroke="#000" stroke-width="1" />
<line x1="309.72" y1="14.1" x2="309.72" y2="15.4" stroke="#000" stroke-width="1" />
<line x1="309.72" y1="115.4" x2="309.72" y2="114.1" stroke="#000" stroke-width="1" />
<line x1="309.72" y1="115.4" x2="309.72" y2="116.7" stroke="#000" stroke-width="1" />
<line x1="309.72" y1="216.5" x2="309.72" y2="215.2" stroke="#000" stroke-width="1" />
<line x1="320.37" y1="14.1" x2="320.37" y2="15.4" stroke="#000" stroke-width="1" />
<line x1="320.37" y1="115.4" x2="320.37" y2="114.1" stroke="#000" stroke-width="1" />
<line x1="320.37" y1="115.4" x2="320.37" y2="116.7" stroke="#000" stroke-width="1" />
<line x1="320.37" y1="216.5" x2="320.37" y2="215.2" stroke="#000" stroke-width="1" />
<line x1="331.01" y1="14.1" x2="331.01" y2="15.4" stroke="#000" stroke-width="1" />
<line x1="331.01" y1="115.4" x2="331.01" y2="114.1" stroke="#000" stroke-width="1" />
<line x1="331.01" y1="115.4" x2="331.01" y2="116.7" stroke="#000" stroke-width="1" />
<line x1="331.01" y1="216.5" x2="331.01" y2="215.2" stroke="#000" stroke-width="1" />
<line x1="341.65" y1="14.1" x2="341.65" y2="15.4" stroke="#000" stroke-width="1" />
<line x1="341.65" y1="115.4" x2="341.65" y2="114.1" stroke="#000" stroke-width="1" />
<line x1="341.65" y1="115.4" x2="341.65" y2="116.7" stroke="#000" stroke-width="1" />
<line x1="341.65" y1="216.5" x2="341.65" y2="215.2" stroke="#000" stroke-width="1" />
<line x1="352.3" y1="14.1" x2="352.3" y2="16.7" stroke="#000" stroke-width="1" />
<line x1="352.3" y1="115.4" x2="352.3" y2="112.8" stroke="#000" stroke-width="1" />
<line x1="352.3" y1="115.4" x2="352.3" y2="118" stroke="#000" stroke-width="1" />
<line x1="352.3" y1="216.5" x2="352.3" y2="213.9" stroke="#000" stroke-width="1" />
<line x1="362.94" y1="14.1" x2="362.94" y2="15.4" stroke="#000" stroke-width="1" />
<line x1="362.94" y1="115.4" x2="362.94" y2="114.1" stroke="#000" stroke-width="1" />
<line x1="362.94" y1="115.4" x2="362.94" y2="116.7" stroke="#000" stroke-width="1" />
<line x1="362.94" y1="216.5" x2="362.94" y2="215.2" stroke="#000" stroke-width="1" />
<line x1="373.59" y1="14.1" x2="373.59" y2="15.4" stroke="#000" stroke-width="1" />
<line x1="373.59" y1="115.4" x2="373.59" y2="114.1" stroke="#000" stroke-width="1" />
<line x1="373.59" y1="115.4" x2="373.59" y2="116.7" stroke="#000" stroke-width="1" />
<line x1="373.59" y1="216.5" x2="373.59" y2="215.2" stroke="#000" stroke-width="1" />
<line x1="384.24" y1="14.1" x2="384.24" y2="15.4" stroke="#000" stroke-width="1" />
<line x1="384.24" y1="115.4" x2="384.24" y2="114.1" stroke="#000" stroke-width="1" />
<line x1="384.24" y1="115.4" x2="384.24" y2="116.7" stroke="#000" stroke-width="1" />
<line x1="384.24" y1="216.5" x2="384.24" y2="215.2" stroke="#000" stroke-width="1" />
<line x1="394.88" y1="14.1" x2="394.88" y2="15.4" stroke="#000" stroke-width="1" />
<line x1="394.88" y1="115.4" x2="394.88" y2="114.1" stroke="#000" stroke-width="1" />
<line x1="394.88" y1="115.4" x2="394.88" y2="116.7" stroke="#000" stroke-width="1" />
<line x1="394.88" y1="216.5" x2="394.88" y2="215.2" stroke="#000" stroke-width="1" />
<line x1="405.52" y1="14.1" x2="405.52" y2="15.4" stroke="#000" stroke-width="1" />
<line x1="405.52" y1="115.4" x2="405.52" y2="114.1" stroke="#000" stroke-width="1" />
<line x1="405.52" y1="115.4" x2="405.52" y2="116.7" stroke="#000" stroke-width="1" />
<line x1="405.52" y1="216.5" x2="405.52" y2="215.2" stroke="#000" stroke-width="1" />
<line x1="416.17" y1="14.1" x2="416.17" y2="15.4" stroke="#000" stroke-width="1" />
<line x1="416.17" y1="115.4" x2="416.17" y2="114.1" stroke="#000" stroke-width="1" />
<line x1="416.17" y1="115.4" x2="416.17" y2="116.7" stroke="#000" stroke-width="1" />
<line x1="416.17" y1="216.5" x2="416.17" y2="215.2" stroke="#000" stroke-width="1" />
<line x1="426.81" y1="14.1" x2="426.81" y2="15.4" stroke="#000" stroke-width="1" />
<line x1="426.81" y1="115.4" x2="426.81" y2="114.1" stroke="#000" stroke-width="1" />
<line x1="426.81" y1="115.4" x2="426.81" y2="116.7" stroke="#000" stroke-width="1" />
<line x1="426.81" y1="216.5" x2="426.81" y2="215.2" stroke="#000" stroke-width="1" />
<text transform="translate(139.4,234.9) scale(1.0,1.07)" font-size="14.3" text-anchor="middle" fill="#000" stroke="#000" stroke-width="0.2" >7600</text>
<text transform="translate(245.85,234.9) scale(1.0,1.07)" font-size="14.3" text-anchor="middle" fill="#000" stroke="#000" stroke-width="0.2" >7700</text>
<text transform="translate(352.3,234.9) scale(1.0,1.07)" font-size="14.3" text-anchor="middle" fill="#000" stroke="#000" stroke-width="0.2" >7800</text>
<text transform="translate(239.1,251) scale(1.0,1.07)" font-size="14.5" text-anchor="middle" fill="#000" stroke="#000" stroke-width="0.2" >HJD − 2450000</text>
<text transform="translate(14.8,64.75) rotate(-90)" font-size="14.5" text-anchor="middle" stroke="#000" stroke-width="0.2">f<tspan font-size="9.5" dy="4.2">λ</tspan></text>
<text transform="translate(10.9,165.95) rotate(-90)" font-size="14.5" text-anchor="middle" stroke="#000" stroke-width="0.2">f<tspan font-size="9.5" dy="4.0">line</tspan></text>
<text transform="translate(412.6,33.7) scale(0.955,1.0)" font-size="10.4" text-anchor="end" fill="#ff00ff" stroke="#ff00ff" stroke-width="0.2" >KAIT</text>
<text transform="translate(412.6,43.53) scale(0.955,1.0)" font-size="10.4" text-anchor="end" fill="#ff0000" stroke="#ff0000" stroke-width="0.2" >LCOGT−1m</text>
<text transform="translate(412.6,53.36) scale(0.955,1.0)" font-size="10.4" text-anchor="end" fill="#ffa500" stroke="#ffa500" stroke-width="0.2" >LCOGT−2m</text>
<text transform="translate(412.6,63.19) scale(0.955,1.0)" font-size="10.4" text-anchor="end" fill="#33cc33" stroke="#33cc33" stroke-width="0.2" >Liverpool</text>
<text transform="translate(412.6,73.02) scale(0.955,1.0)" font-size="10.4" text-anchor="end" fill="#228b22" stroke="#228b22" stroke-width="0.2" >MLO</text>
<text transform="translate(412.6,82.85) scale(0.955,1.0)" font-size="10.4" text-anchor="end" fill="#551a8b" stroke="#551a8b" stroke-width="0.2" >WMO</text>
<text transform="translate(87.55,59.6) scale(1.0,1.1)" font-size="13.3" text-anchor="middle" fill="#000" stroke="#000" stroke-width="0.2" >V</text>
<text transform="translate(73,143.75) scale(1.0,1.06)" font-size="14.3" text-anchor="start" fill="#000" stroke="#000" stroke-width="0.2" >Hβ</text>
<rect x="492.8" y="76.3" width="207.6" height="145" fill="none" stroke="#000" stroke-width="1.25"/>
<line x1="492.8" y1="221.3" x2="497" y2="221.3" stroke="#000" stroke-width="1.2" />
<line x1="696.2" y1="221.3" x2="700.4" y2="221.3" stroke="#000" stroke-width="1.2" />
<text transform="translate(488.6,221.1) scale(1.0,1.05)" font-size="13.1" text-anchor="end" fill="#000" stroke="#000" stroke-width="0.2" >0.00</text>
<line x1="492.8" y1="193.68" x2="497" y2="193.68" stroke="#000" stroke-width="1.2" />
<line x1="696.2" y1="193.68" x2="700.4" y2="193.68" stroke="#000" stroke-width="1.2" />
<text transform="translate(488.6,197.98) scale(1.0,1.05)" font-size="13.1" text-anchor="end" fill="#000" stroke="#000" stroke-width="0.2" >0.20</text>
<line x1="492.8" y1="166.06" x2="497" y2="166.06" stroke="#000" stroke-width="1.2" />
<line x1="696.2" y1="166.06" x2="700.4" y2="166.06" stroke="#000" stroke-width="1.2" />
<text transform="translate(488.6,170.36) scale(1.0,1.05)" font-size="13.1" text-anchor="end" fill="#000" stroke="#000" stroke-width="0.2" >0.40</text>
<line x1="492.8" y1="138.44" x2="497" y2="138.44" stroke="#000" stroke-width="1.2" />
<line x1="696.2" y1="138.44" x2="700.4" y2="138.44" stroke="#000" stroke-width="1.2" />
<text transform="translate(488.6,142.74) scale(1.0,1.05)" font-size="13.1" text-anchor="end" fill="#000" stroke="#000" stroke-width="0.2" >0.60</text>
<line x1="492.8" y1="110.82" x2="497" y2="110.82" stroke="#000" stroke-width="1.2" />
<line x1="696.2" y1="110.82" x2="700.4" y2="110.82" stroke="#000" stroke-width="1.2" />
<text transform="translate(488.6,115.12) scale(1.0,1.05)" font-size="13.1" text-anchor="end" fill="#000" stroke="#000" stroke-width="0.2" >0.80</text>
<line x1="492.8" y1="83.2" x2="497" y2="83.2" stroke="#000" stroke-width="1.2" />
<line x1="696.2" y1="83.2" x2="700.4" y2="83.2" stroke="#000" stroke-width="1.2" />
<text transform="translate(488.6,87.5) scale(1.0,1.05)" font-size="13.1" text-anchor="end" fill="#000" stroke="#000" stroke-width="0.2" >1.00</text>
<line x1="492.7" y1="221.3" x2="492.7" y2="224.9" stroke="#000" stroke-width="1.2" />
<line x1="492.7" y1="76.3" x2="492.7" y2="78.5" stroke="#000" stroke-width="1.2" />
<text transform="translate(492.7,241.4) scale(1.0,1.05)" font-size="13" text-anchor="middle" fill="#000" stroke="#000" stroke-width="0.2" >−20</text>
<line x1="530.52" y1="221.3" x2="530.52" y2="224.9" stroke="#000" stroke-width="1.2" />
<line x1="530.52" y1="76.3" x2="530.52" y2="78.5" stroke="#000" stroke-width="1.2" />
<text transform="translate(530.52,241.4) scale(1.0,1.05)" font-size="13" text-anchor="middle" fill="#000" stroke="#000" stroke-width="0.2" >0</text>
<line x1="568.34" y1="221.3" x2="568.34" y2="224.9" stroke="#000" stroke-width="1.2" />
<line x1="568.34" y1="76.3" x2="568.34" y2="78.5" stroke="#000" stroke-width="1.2" />
<text transform="translate(568.34,241.4) scale(1.0,1.05)" font-size="13" text-anchor="middle" fill="#000" stroke="#000" stroke-width="0.2" >20</text>
<line x1="606.16" y1="221.3" x2="606.16" y2="224.9" stroke="#000" stroke-width="1.2" />
<line x1="606.16" y1="76.3" x2="606.16" y2="78.5" stroke="#000" stroke-width="1.2" />
<text transform="translate(606.16,241.4) scale(1.0,1.05)" font-size="13" text-anchor="middle" fill="#000" stroke="#000" stroke-width="0.2" >40</text>
<line x1="643.98" y1="221.3" x2="643.98" y2="224.9" stroke="#000" stroke-width="1.2" />
<line x1="643.98" y1="76.3" x2="643.98" y2="78.5" stroke="#000" stroke-width="1.2" />
<text transform="translate(643.98,241.4) scale(1.0,1.05)" font-size="13" text-anchor="middle" fill="#000" stroke="#000" stroke-width="0.2" >60</text>
<line x1="681.8" y1="221.3" x2="681.8" y2="224.9" stroke="#000" stroke-width="1.2" />
<line x1="681.8" y1="76.3" x2="681.8" y2="78.5" stroke="#000" stroke-width="1.2" />
<text transform="translate(681.8,241.4) scale(1.0,1.05)" font-size="13" text-anchor="middle" fill="#000" stroke="#000" stroke-width="0.2" >80</text>
<text transform="translate(597,257.6) scale(1.0,1.06)" font-size="13.4" text-anchor="middle" fill="#000" stroke="#000" stroke-width="0.2" >Lag (days)</text>
<text transform="translate(453.0,149.3) rotate(-90) scale(1,1.1)" font-size="13.4" text-anchor="middle" stroke="#000" stroke-width="0.2">CCF / CCCD</text>
<text transform="translate(239.6,293.15) scale(1.0,1.05)" font-size="12.2" text-anchor="middle" fill="#000" stroke="#000" stroke-width="0.2" >RBS1917</text>
<rect x="51.2" y="298.3" width="376.3" height="202.4" fill="none" stroke="#000" stroke-width="1.5"/>
<line x1="51.2" y1="399.6" x2="427.5" y2="399.6" stroke="#000" stroke-width="1.5" />
<line x1="51.2" y1="301.7" x2="58.2" y2="301.7" stroke="#000" stroke-width="1.35" />
<line x1="420.5" y1="301.7" x2="427.5" y2="301.7" stroke="#000" stroke-width="1.35" />
<text transform="translate(46.9,306.45) scale(1.0,1.065)" font-size="14.4" text-anchor="end" fill="#000" stroke="#000" stroke-width="0.2" >1.8</text>
<line x1="51.2" y1="323.15" x2="58.2" y2="323.15" stroke="#000" stroke-width="1.35" />
<line x1="420.5" y1="323.15" x2="427.5" y2="323.15" stroke="#000" stroke-width="1.35" />
<text transform="translate(46.9,327.9) scale(1.0,1.065)" font-size="14.4" text-anchor="end" fill="#000" stroke="#000" stroke-width="0.2" >1.7</text>
<line x1="51.2" y1="344.6" x2="58.2" y2="344.6" stroke="#000" stroke-width="1.35" />
<line x1="420.5" y1="344.6" x2="427.5" y2="344.6" stroke="#000" stroke-width="1.35" />
<text transform="translate(46.9,349.35) scale(1.0,1.065)" font-size="14.4" text-anchor="end" fill="#000" stroke="#000" stroke-width="0.2" >1.6</text>
<line x1="51.2" y1="366.05" x2="58.2" y2="366.05" stroke="#000" stroke-width="1.35" />
<line x1="420.5" y1="366.05" x2="427.5" y2="366.05" stroke="#000" stroke-width="1.35" />
<text transform="translate(46.9,370.8) scale(1.0,1.065)" font-size="14.4" text-anchor="end" fill="#000" stroke="#000" stroke-width="0.2" >1.5</text>
<line x1="51.2" y1="387.5" x2="58.2" y2="387.5" stroke="#000" stroke-width="1.35" />
<line x1="420.5" y1="387.5" x2="427.5" y2="387.5" stroke="#000" stroke-width="1.35" />
<text transform="translate(46.9,392.25) scale(1.0,1.065)" font-size="14.4" text-anchor="end" fill="#000" stroke="#000" stroke-width="0.2" >1.4</text>
<line x1="51.2" y1="403.5" x2="58.2" y2="403.5" stroke="#000" stroke-width="1.35" />
<line x1="420.5" y1="403.5" x2="427.5" y2="403.5" stroke="#000" stroke-width="1.35" />
<text transform="translate(46.9,408.25) scale(1.0,1.065)" font-size="14.4" text-anchor="end" fill="#000" stroke="#000" stroke-width="0.2" >150</text>
<line x1="51.2" y1="419.94" x2="58.2" y2="419.94" stroke="#000" stroke-width="1.35" />
<line x1="420.5" y1="419.94" x2="427.5" y2="419.94" stroke="#000" stroke-width="1.35" />
<text transform="translate(46.9,424.69) scale(1.0,1.065)" font-size="14.4" text-anchor="end" fill="#000" stroke="#000" stroke-width="0.2" >145</text>
<line x1="51.2" y1="436.38" x2="58.2" y2="436.38" stroke="#000" stroke-width="1.35" />
<line x1="420.5" y1="436.38" x2="427.5" y2="436.38" stroke="#000" stroke-width="1.35" />
<text transform="translate(46.9,441.13) scale(1.0,1.065)" font-size="14.4" text-anchor="end" fill="#000" stroke="#000" stroke-width="0.2" >140</text>
<line x1="51.2" y1="452.82" x2="58.2" y2="452.82" stroke="#000" stroke-width="1.35" />
<line x1="420.5" y1="452.82" x2="427.5" y2="452.82" stroke="#000" stroke-width="1.35" />
<text transform="translate(46.9,457.57) scale(1.0,1.065)" font-size="14.4" text-anchor="end" fill="#000" stroke="#000" stroke-width="0.2" >135</text>
<line x1="51.2" y1="469.26" x2="58.2" y2="469.26" stroke="#000" stroke-width="1.35" />
<line x1="420.5" y1="469.26" x2="427.5" y2="469.26" stroke="#000" stroke-width="1.35" />
<text transform="translate(46.9,474.01) scale(1.0,1.065)" font-size="14.4" text-anchor="end" fill="#000" stroke="#000" stroke-width="0.2" >130</text>
<line x1="51.2" y1="485.7" x2="58.2" y2="485.7" stroke="#000" stroke-width="1.35" />
<line x1="420.5" y1="485.7" x2="427.5" y2="485.7" stroke="#000" stroke-width="1.35" />
<text transform="translate(46.9,490.45) scale(1.0,1.065)" font-size="14.4" text-anchor="end" fill="#000" stroke="#000" stroke-width="0.2" >125</text>
<line x1="55.02" y1="298.3" x2="55.02" y2="299.6" stroke="#000" stroke-width="1" />
<line x1="55.02" y1="399.6" x2="55.02" y2="398.3" stroke="#000" stroke-width="1" />
<line x1="55.02" y1="399.6" x2="55.02" y2="400.9" stroke="#000" stroke-width="1" />
<line x1="55.02" y1="500.7" x2="55.02" y2="499.4" stroke="#000" stroke-width="1" />
<line x1="64.41" y1="298.3" x2="64.41" y2="299.6" stroke="#000" stroke-width="1" />
<line x1="64.41" y1="399.6" x2="64.41" y2="398.3" stroke="#000" stroke-width="1" />
<line x1="64.41" y1="399.6" x2="64.41" y2="400.9" stroke="#000" stroke-width="1" />
<line x1="64.41" y1="500.7" x2="64.41" y2="499.4" stroke="#000" stroke-width="1" />
<line x1="73.8" y1="298.3" x2="73.8" y2="300.9" stroke="#000" stroke-width="1" />
<line x1="73.8" y1="399.6" x2="73.8" y2="397" stroke="#000" stroke-width="1" />
<line x1="73.8" y1="399.6" x2="73.8" y2="402.2" stroke="#000" stroke-width="1" />
<line x1="73.8" y1="500.7" x2="73.8" y2="498.1" stroke="#000" stroke-width="1" />
<line x1="83.19" y1="298.3" x2="83.19" y2="299.6" stroke="#000" stroke-width="1" />
<line x1="83.19" y1="399.6" x2="83.19" y2="398.3" stroke="#000" stroke-width="1" />
<line x1="83.19" y1="399.6" x2="83.19" y2="400.9" stroke="#000" stroke-width="1" />
<line x1="83.19" y1="500.7" x2="83.19" y2="499.4" stroke="#000" stroke-width="1" />
<line x1="92.58" y1="298.3" x2="92.58" y2="299.6" stroke="#000" stroke-width="1" />
<line x1="92.58" y1="399.6" x2="92.58" y2="398.3" stroke="#000" stroke-width="1" />
<line x1="92.58" y1="399.6" x2="92.58" y2="400.9" stroke="#000" stroke-width="1" />
<line x1="92.58" y1="500.7" x2="92.58" y2="499.4" stroke="#000" stroke-width="1" />
<line x1="101.97" y1="298.3" x2="101.97" y2="299.6" stroke="#000" stroke-width="1" />
<line x1="101.97" y1="399.6" x2="101.97" y2="398.3" stroke="#000" stroke-width="1" />
<line x1="101.97" y1="399.6" x2="101.97" y2="400.9" stroke="#000" stroke-width="1" />
<line x1="101.97" y1="500.7" x2="101.97" y2="499.4" stroke="#000" stroke-width="1" />
<line x1="111.36" y1="298.3" x2="111.36" y2="299.6" stroke="#000" stroke-width="1" />
<line x1="111.36" y1="399.6" x2="111.36" y2="398.3" stroke="#000" stroke-width="1" />
<line x1="111.36" y1="399.6" x2="111.36" y2="400.9" stroke="#000" stroke-width="1" />
<line x1="111.36" y1="500.7" x2="111.36" y2="499.4" stroke="#000" stroke-width="1" />
<line x1="120.75" y1="298.3" x2="120.75" y2="299.6" stroke="#000" stroke-width="1" />
<line x1="120.75" y1="399.6" x2="120.75" y2="398.3" stroke="#000" stroke-width="1" />
<line x1="120.75" y1="399.6" x2="120.75" y2="400.9" stroke="#000" stroke-width="1" />
<line x1="120.75" y1="500.7" x2="120.75" y2="499.4" stroke="#000" stroke-width="1" />
<line x1="130.14" y1="298.3" x2="130.14" y2="299.6" stroke="#000" stroke-width="1" />
<line x1="130.14" y1="399.6" x2="130.14" y2="398.3" stroke="#000" stroke-width="1" />
<line x1="130.14" y1="399.6" x2="130.14" y2="400.9" stroke="#000" stroke-width="1" />
<line x1="130.14" y1="500.7" x2="130.14" y2="499.4" stroke="#000" stroke-width="1" />
<line x1="139.53" y1="298.3" x2="139.53" y2="299.6" stroke="#000" stroke-width="1" />
<line x1="139.53" y1="399.6" x2="139.53" y2="398.3" stroke="#000" stroke-width="1" />
<line x1="139.53" y1="399.6" x2="139.53" y2="400.9" stroke="#000" stroke-width="1" />
<line x1="139.53" y1="500.7" x2="139.53" y2="499.4" stroke="#000" stroke-width="1" />
<line x1="148.92" y1="298.3" x2="148.92" y2="299.6" stroke="#000" stroke-width="1" />
<line x1="148.92" y1="399.6" x2="148.92" y2="398.3" stroke="#000" stroke-width="1" />
<line x1="148.92" y1="399.6" x2="148.92" y2="400.9" stroke="#000" stroke-width="1" />
<line x1="148.92" y1="500.7" x2="148.92" y2="499.4" stroke="#000" stroke-width="1" />
<line x1="158.31" y1="298.3" x2="158.31" y2="299.6" stroke="#000" stroke-width="1" />
<line x1="158.31" y1="399.6" x2="158.31" y2="398.3" stroke="#000" stroke-width="1" />
<line x1="158.31" y1="399.6" x2="158.31" y2="400.9" stroke="#000" stroke-width="1" />
<line x1="158.31" y1="500.7" x2="158.31" y2="499.4" stroke="#000" stroke-width="1" />
<line x1="167.7" y1="298.3" x2="167.7" y2="300.9" stroke="#000" stroke-width="1" />
<line x1="167.7" y1="399.6" x2="167.7" y2="397" stroke="#000" stroke-width="1" />
<line x1="167.7" y1="399.6" x2="167.7" y2="402.2" stroke="#000" stroke-width="1" />
<line x1="167.7" y1="500.7" x2="167.7" y2="498.1" stroke="#000" stroke-width="1" />
<line x1="177.09" y1="298.3" x2="177.09" y2="299.6" stroke="#000" stroke-width="1" />
<line x1="177.09" y1="399.6" x2="177.09" y2="398.3" stroke="#000" stroke-width="1" />
<line x1="177.09" y1="399.6" x2="177.09" y2="400.9" stroke="#000" stroke-width="1" />
<line x1="177.09" y1="500.7" x2="177.09" y2="499.4" stroke="#000" stroke-width="1" />
<line x1="186.48" y1="298.3" x2="186.48" y2="299.6" stroke="#000" stroke-width="1" />
<line x1="186.48" y1="399.6" x2="186.48" y2="398.3" stroke="#000" stroke-width="1" />
<line x1="186.48" y1="399.6" x2="186.48" y2="400.9" stroke="#000" stroke-width="1" />
<line x1="186.48" y1="500.7" x2="186.48" y2="499.4" stroke="#000" stroke-width="1" />
<line x1="195.87" y1="298.3" x2="195.87" y2="299.6" stroke="#000" stroke-width="1" />
<line x1="195.87" y1="399.6" x2="195.87" y2="398.3" stroke="#000" stroke-width="1" />
<line x1="195.87" y1="399.6" x2="195.87" y2="400.9" stroke="#000" stroke-width="1" />
<line x1="195.87" y1="500.7" x2="195.87" y2="499.4" stroke="#000" stroke-width="1" />
<line x1="205.26" y1="298.3" x2="205.26" y2="299.6" stroke="#000" stroke-width="1" />
<line x1="205.26" y1="399.6" x2="205.26" y2="398.3" stroke="#000" stroke-width="1" />
<line x1="205.26" y1="399.6" x2="205.26" y2="400.9" stroke="#000" stroke-width="1" />
<line x1="205.26" y1="500.7" x2="205.26" y2="499.4" stroke="#000" stroke-width="1" />
<line x1="214.65" y1="298.3" x2="214.65" y2="299.6" stroke="#000" stroke-width="1" />
<line x1="214.65" y1="399.6" x2="214.65" y2="398.3" stroke="#000" stroke-width="1" />
<line x1="214.65" y1="399.6" x2="214.65" y2="400.9" stroke="#000" stroke-width="1" />
<line x1="214.65" y1="500.7" x2="214.65" y2="499.4" stroke="#000" stroke-width="1" />
<line x1="224.04" y1="298.3" x2="224.04" y2="299.6" stroke="#000" stroke-width="1" />
<line x1="224.04" y1="399.6" x2="224.04" y2="398.3" stroke="#000" stroke-width="1" />
<line x1="224.04" y1="399.6" x2="224.04" y2="400.9" stroke="#000" stroke-width="1" />
<line x1="224.04" y1="500.7" x2="224.04" y2="499.4" stroke="#000" stroke-width="1" />
<line x1="233.43" y1="298.3" x2="233.43" y2="299.6" stroke="#000" stroke-width="1" />
<line x1="233.43" y1="399.6" x2="233.43" y2="398.3" stroke="#000" stroke-width="1" />
<line x1="233.43" y1="399.6" x2="233.43" y2="400.9" stroke="#000" stroke-width="1" />
<line x1="233.43" y1="500.7" x2="233.43" y2="499.4" stroke="#000" stroke-width="1" />
<line x1="242.82" y1="298.3" x2="242.82" y2="299.6" stroke="#000" stroke-width="1" />
<line x1="242.82" y1="399.6" x2="242.82" y2="398.3" stroke="#000" stroke-width="1" />
<line x1="242.82" y1="399.6" x2="242.82" y2="400.9" stroke="#000" stroke-width="1" />
<line x1="242.82" y1="500.7" x2="242.82" y2="499.4" stroke="#000" stroke-width="1" />
<line x1="252.21" y1="298.3" x2="252.21" y2="299.6" stroke="#000" stroke-width="1" />
<line x1="252.21" y1="399.6" x2="252.21" y2="398.3" stroke="#000" stroke-width="1" />
<line x1="252.21" y1="399.6" x2="252.21" y2="400.9" stroke="#000" stroke-width="1" />
<line x1="252.21" y1="500.7" x2="252.21" y2="499.4" stroke="#000" stroke-width="1" />
<line x1="261.6" y1="298.3" x2="261.6" y2="300.9" stroke="#000" stroke-width="1" />
<line x1="261.6" y1="399.6" x2="261.6" y2="397" stroke="#000" stroke-width="1" />
<line x1="261.6" y1="399.6" x2="261.6" y2="402.2" stroke="#000" stroke-width="1" />
<line x1="261.6" y1="500.7" x2="261.6" y2="498.1" stroke="#000" stroke-width="1" />
<line x1="270.99" y1="298.3" x2="270.99" y2="299.6" stroke="#000" stroke-width="1" />
<line x1="270.99" y1="399.6" x2="270.99" y2="398.3" stroke="#000" stroke-width="1" />
<line x1="270.99" y1="399.6" x2="270.99" y2="400.9" stroke="#000" stroke-width="1" />
<line x1="270.99" y1="500.7" x2="270.99" y2="499.4" stroke="#000" stroke-width="1" />
<line x1="280.38" y1="298.3" x2="280.38" y2="299.6" stroke="#000" stroke-width="1" />
<line x1="280.38" y1="399.6" x2="280.38" y2="398.3" stroke="#000" stroke-width="1" />
<line x1="280.38" y1="399.6" x2="280.38" y2="400.9" stroke="#000" stroke-width="1" />
<line x1="280.38" y1="500.7" x2="280.38" y2="499.4" stroke="#000" stroke-width="1" />
<line x1="289.77" y1="298.3" x2="289.77" y2="299.6" stroke="#000" stroke-width="1" />
<line x1="289.77" y1="399.6" x2="289.77" y2="398.3" stroke="#000" stroke-width="1" />
<line x1="289.77" y1="399.6" x2="289.77" y2="400.9" stroke="#000" stroke-width="1" />
<line x1="289.77" y1="500.7" x2="289.77" y2="499.4" stroke="#000" stroke-width="1" />
<line x1="299.16" y1="298.3" x2="299.16" y2="299.6" stroke="#000" stroke-width="1" />
<line x1="299.16" y1="399.6" x2="299.16" y2="398.3" stroke="#000" stroke-width="1" />
<line x1="299.16" y1="399.6" x2="299.16" y2="400.9" stroke="#000" stroke-width="1" />
<line x1="299.16" y1="500.7" x2="299.16" y2="499.4" stroke="#000" stroke-width="1" />
<line x1="308.55" y1="298.3" x2="308.55" y2="299.6" stroke="#000" stroke-width="1" />
<line x1="308.55" y1="399.6" x2="308.55" y2="398.3" stroke="#000" stroke-width="1" />
<line x1="308.55" y1="399.6" x2="308.55" y2="400.9" stroke="#000" stroke-width="1" />
<line x1="308.55" y1="500.7" x2="308.55" y2="499.4" stroke="#000" stroke-width="1" />
<line x1="317.94" y1="298.3" x2="317.94" y2="299.6" stroke="#000" stroke-width="1" />
<line x1="317.94" y1="399.6" x2="317.94" y2="398.3" stroke="#000" stroke-width="1" />
<line x1="317.94" y1="399.6" x2="317.94" y2="400.9" stroke="#000" stroke-width="1" />
<line x1="317.94" y1="500.7" x2="317.94" y2="499.4" stroke="#000" stroke-width="1" />
<line x1="327.33" y1="298.3" x2="327.33" y2="299.6" stroke="#000" stroke-width="1" />
<line x1="327.33" y1="399.6" x2="327.33" y2="398.3" stroke="#000" stroke-width="1" />
<line x1="327.33" y1="399.6" x2="327.33" y2="400.9" stroke="#000" stroke-width="1" />
<line x1="327.33" y1="500.7" x2="327.33" y2="499.4" stroke="#000" stroke-width="1" />
<line x1="336.72" y1="298.3" x2="336.72" y2="299.6" stroke="#000" stroke-width="1" />
<line x1="336.72" y1="399.6" x2="336.72" y2="398.3" stroke="#000" stroke-width="1" />
<line x1="336.72" y1="399.6" x2="336.72" y2="400.9" stroke="#000" stroke-width="1" />
<line x1="336.72" y1="500.7" x2="336.72" y2="499.4" stroke="#000" stroke-width="1" />
<line x1="346.11" y1="298.3" x2="346.11" y2="299.6" stroke="#000" stroke-width="1" />
<line x1="346.11" y1="399.6" x2="346.11" y2="398.3" stroke="#000" stroke-width="1" />
<line x1="346.11" y1="399.6" x2="346.11" y2="400.9" stroke="#000" stroke-width="1" />
<line x1="346.11" y1="500.7" x2="346.11" y2="499.4" stroke="#000" stroke-width="1" />
<line x1="355.5" y1="298.3" x2="355.5" y2="300.9" stroke="#000" stroke-width="1" />
<line x1="355.5" y1="399.6" x2="355.5" y2="397" stroke="#000" stroke-width="1" />
<line x1="355.5" y1="399.6" x2="355.5" y2="402.2" stroke="#000" stroke-width="1" />
<line x1="355.5" y1="500.7" x2="355.5" y2="498.1" stroke="#000" stroke-width="1" />
<line x1="364.89" y1="298.3" x2="364.89" y2="299.6" stroke="#000" stroke-width="1" />
<line x1="364.89" y1="399.6" x2="364.89" y2="398.3" stroke="#000" stroke-width="1" />
<line x1="364.89" y1="399.6" x2="364.89" y2="400.9" stroke="#000" stroke-width="1" />
<line x1="364.89" y1="500.7" x2="364.89" y2="499.4" stroke="#000" stroke-width="1" />
<line x1="374.28" y1="298.3" x2="374.28" y2="299.6" stroke="#000" stroke-width="1" />
<line x1="374.28" y1="399.6" x2="374.28" y2="398.3" stroke="#000" stroke-width="1" />
<line x1="374.28" y1="399.6" x2="374.28" y2="400.9" stroke="#000" stroke-width="1" />
<line x1="374.28" y1="500.7" x2="374.28" y2="499.4" stroke="#000" stroke-width="1" />
<line x1="383.67" y1="298.3" x2="383.67" y2="299.6" stroke="#000" stroke-width="1" />
<line x1="383.67" y1="399.6" x2="383.67" y2="398.3" stroke="#000" stroke-width="1" />
<line x1="383.67" y1="399.6" x2="383.67" y2="400.9" stroke="#000" stroke-width="1" />
<line x1="383.67" y1="500.7" x2="383.67" y2="499.4" stroke="#000" stroke-width="1" />
<line x1="393.06" y1="298.3" x2="393.06" y2="299.6" stroke="#000" stroke-width="1" />
<line x1="393.06" y1="399.6" x2="393.06" y2="398.3" stroke="#000" stroke-width="1" />
<line x1="393.06" y1="399.6" x2="393.06" y2="400.9" stroke="#000" stroke-width="1" />
<line x1="393.06" y1="500.7" x2="393.06" y2="499.4" stroke="#000" stroke-width="1" />
<line x1="402.45" y1="298.3" x2="402.45" y2="299.6" stroke="#000" stroke-width="1" />
<line x1="402.45" y1="399.6" x2="402.45" y2="398.3" stroke="#000" stroke-width="1" />
<line x1="402.45" y1="399.6" x2="402.45" y2="400.9" stroke="#000" stroke-width="1" />
<line x1="402.45" y1="500.7" x2="402.45" y2="499.4" stroke="#000" stroke-width="1" />
<line x1="411.84" y1="298.3" x2="411.84" y2="299.6" stroke="#000" stroke-width="1" />
<line x1="411.84" y1="399.6" x2="411.84" y2="398.3" stroke="#000" stroke-width="1" />
<line x1="411.84" y1="399.6" x2="411.84" y2="400.9" stroke="#000" stroke-width="1" />
<line x1="411.84" y1="500.7" x2="411.84" y2="499.4" stroke="#000" stroke-width="1" />
<line x1="421.23" y1="298.3" x2="421.23" y2="299.6" stroke="#000" stroke-width="1" />
<line x1="421.23" y1="399.6" x2="421.23" y2="398.3" stroke="#000" stroke-width="1" />
<line x1="421.23" y1="399.6" x2="421.23" y2="400.9" stroke="#000" stroke-width="1" />
<line x1="421.23" y1="500.7" x2="421.23" y2="499.4" stroke="#000" stroke-width="1" />
<text transform="translate(73.8,519.1) scale(1.0,1.07)" font-size="14.3" text-anchor="middle" fill="#000" stroke="#000" stroke-width="0.2" >7500</text>
<text transform="translate(167.7,519.1) scale(1.0,1.07)" font-size="14.3" text-anchor="middle" fill="#000" stroke="#000" stroke-width="0.2" >7600</text>
<text transform="translate(261.6,519.1) scale(1.0,1.07)" font-size="14.3" text-anchor="middle" fill="#000" stroke="#000" stroke-width="0.2" >7700</text>
<text transform="translate(355.5,519.1) scale(1.0,1.07)" font-size="14.3" text-anchor="middle" fill="#000" stroke="#000" stroke-width="0.2" >7800</text>
<text transform="translate(239.1,535.2) scale(1.0,1.07)" font-size="14.5" text-anchor="middle" fill="#000" stroke="#000" stroke-width="0.2" >HJD − 2450000</text>
<text transform="translate(14.8,348.95) rotate(-90)" font-size="14.5" text-anchor="middle" stroke="#000" stroke-width="0.2">f<tspan font-size="9.5" dy="4.2">λ</tspan></text>
<text transform="translate(10.9,450.15) rotate(-90)" font-size="14.5" text-anchor="middle" stroke="#000" stroke-width="0.2">f<tspan font-size="9.5" dy="4.0">line</tspan></text>
<text transform="translate(412.6,317.9) scale(0.955,1.0)" font-size="10.4" text-anchor="end" fill="#ff00ff" stroke="#ff00ff" stroke-width="0.2" >KAIT</text>
<text transform="translate(412.6,327.73) scale(0.955,1.0)" font-size="10.4" text-anchor="end" fill="#ff0000" stroke="#ff0000" stroke-width="0.2" >LCOGT−1m</text>
<text transform="translate(412.6,337.56) scale(0.955,1.0)" font-size="10.4" text-anchor="end" fill="#ffa500" stroke="#ffa500" stroke-width="0.2" >LCOGT−2m</text>
<text transform="translate(412.6,347.39) scale(0.955,1.0)" font-size="10.4" text-anchor="end" fill="#33cc33" stroke="#33cc33" stroke-width="0.2" >Liverpool</text>
<text transform="translate(412.6,357.22) scale(0.955,1.0)" font-size="10.4" text-anchor="end" fill="#228b22" stroke="#228b22" stroke-width="0.2" >MLO</text>
<text transform="translate(412.6,367.05) scale(0.955,1.0)" font-size="10.4" text-anchor="end" fill="#551a8b" stroke="#551a8b" stroke-width="0.2" >WMO</text>
<text transform="translate(412.6,376.88) scale(0.955,1.0)" font-size="10.4" text-anchor="end" fill="#9b30ff" stroke="#9b30ff" stroke-width="0.2" >Whip</text>
<text transform="translate(84.2,331.5) scale(1.0,1.1)" font-size="13.3" text-anchor="middle" fill="#000" stroke="#000" stroke-width="0.2" >V</text>
<text transform="translate(73,427.95) scale(1.0,1.06)" font-size="14.3" text-anchor="start" fill="#000" stroke="#000" stroke-width="0.2" >Hβ</text>
<rect x="492.8" y="360.5" width="207.6" height="145" fill="none" stroke="#000" stroke-width="1.25"/>
<line x1="492.8" y1="505.5" x2="497" y2="505.5" stroke="#000" stroke-width="1.2" />
<line x1="696.2" y1="505.5" x2="700.4" y2="505.5" stroke="#000" stroke-width="1.2" />
<text transform="translate(488.6,505.3) scale(1.0,1.05)" font-size="13.1" text-anchor="end" fill="#000" stroke="#000" stroke-width="0.2" >0.00</text>
<line x1="492.8" y1="477.88" x2="497" y2="477.88" stroke="#000" stroke-width="1.2" />
<line x1="696.2" y1="477.88" x2="700.4" y2="477.88" stroke="#000" stroke-width="1.2" />
<text transform="translate(488.6,482.18) scale(1.0,1.05)" font-size="13.1" text-anchor="end" fill="#000" stroke="#000" stroke-width="0.2" >0.20</text>
<line x1="492.8" y1="450.26" x2="497" y2="450.26" stroke="#000" stroke-width="1.2" />
<line x1="696.2" y1="450.26" x2="700.4" y2="450.26" stroke="#000" stroke-width="1.2" />
<text transform="translate(488.6,454.56) scale(1.0,1.05)" font-size="13.1" text-anchor="end" fill="#000" stroke="#000" stroke-width="0.2" >0.40</text>
<line x1="492.8" y1="422.64" x2="497" y2="422.64" stroke="#000" stroke-width="1.2" />
<line x1="696.2" y1="422.64" x2="700.4" y2="422.64" stroke="#000" stroke-width="1.2" />
<text transform="translate(488.6,426.94) scale(1.0,1.05)" font-size="13.1" text-anchor="end" fill="#000" stroke="#000" stroke-width="0.2" >0.60</text>
<line x1="492.8" y1="395.02" x2="497" y2="395.02" stroke="#000" stroke-width="1.2" />
<line x1="696.2" y1="395.02" x2="700.4" y2="395.02" stroke="#000" stroke-width="1.2" />
<text transform="translate(488.6,399.32) scale(1.0,1.05)" font-size="13.1" text-anchor="end" fill="#000" stroke="#000" stroke-width="0.2" >0.80</text>
<line x1="492.8" y1="367.4" x2="497" y2="367.4" stroke="#000" stroke-width="1.2" />
<line x1="696.2" y1="367.4" x2="700.4" y2="367.4" stroke="#000" stroke-width="1.2" />
<text transform="translate(488.6,371.7) scale(1.0,1.05)" font-size="13.1" text-anchor="end" fill="#000" stroke="#000" stroke-width="0.2" >1.00</text>
<line x1="513.3" y1="505.5" x2="513.3" y2="509.1" stroke="#000" stroke-width="1.2" />
<line x1="513.3" y1="360.5" x2="513.3" y2="362.7" stroke="#000" stroke-width="1.2" />
<text transform="translate(513.3,525.6) scale(1.0,1.05)" font-size="13" text-anchor="middle" fill="#000" stroke="#000" stroke-width="0.2" >−20</text>
<line x1="554.9" y1="505.5" x2="554.9" y2="509.1" stroke="#000" stroke-width="1.2" />
<line x1="554.9" y1="360.5" x2="554.9" y2="362.7" stroke="#000" stroke-width="1.2" />
<text transform="translate(554.9,525.6) scale(1.0,1.05)" font-size="13" text-anchor="middle" fill="#000" stroke="#000" stroke-width="0.2" >0</text>
<line x1="596.5" y1="505.5" x2="596.5" y2="509.1" stroke="#000" stroke-width="1.2" />
<line x1="596.5" y1="360.5" x2="596.5" y2="362.7" stroke="#000" stroke-width="1.2" />
<text transform="translate(596.5,525.6) scale(1.0,1.05)" font-size="13" text-anchor="middle" fill="#000" stroke="#000" stroke-width="0.2" >20</text>
<line x1="638.1" y1="505.5" x2="638.1" y2="509.1" stroke="#000" stroke-width="1.2" />
<line x1="638.1" y1="360.5" x2="638.1" y2="362.7" stroke="#000" stroke-width="1.2" />
<text transform="translate(638.1,525.6) scale(1.0,1.05)" font-size="13" text-anchor="middle" fill="#000" stroke="#000" stroke-width="0.2" >40</text>
<line x1="679.7" y1="505.5" x2="679.7" y2="509.1" stroke="#000" stroke-width="1.2" />
<line x1="679.7" y1="360.5" x2="679.7" y2="362.7" stroke="#000" stroke-width="1.2" />
<text transform="translate(679.7,525.6) scale(1.0,1.05)" font-size="13" text-anchor="middle" fill="#000" stroke="#000" stroke-width="0.2" >60</text>
<text transform="translate(597,541.8) scale(1.0,1.06)" font-size="13.4" text-anchor="middle" fill="#000" stroke="#000" stroke-width="0.2" >Lag (days)</text>
<text transform="translate(453.0,433.5) rotate(-90) scale(1,1.1)" font-size="13.4" text-anchor="middle" stroke="#000" stroke-width="0.2">CCF / CCCD</text>
<text transform="translate(239.6,577.35) scale(1.0,1.05)" font-size="12.2" text-anchor="middle" fill="#000" stroke="#000" stroke-width="0.2" >Mrk315</text>
<rect x="51.2" y="582.5" width="376.3" height="202.4" fill="none" stroke="#000" stroke-width="1.5"/>
<line x1="51.2" y1="683.8" x2="427.5" y2="683.8" stroke="#000" stroke-width="1.5" />
<line x1="51.2" y1="589.5" x2="58.2" y2="589.5" stroke="#000" stroke-width="1.35" />
<line x1="420.5" y1="589.5" x2="427.5" y2="589.5" stroke="#000" stroke-width="1.35" />
<text transform="translate(46.9,594.25) scale(1.0,1.065)" font-size="14.4" text-anchor="end" fill="#000" stroke="#000" stroke-width="0.2" >3.0</text>
<line x1="51.2" y1="611.05" x2="58.2" y2="611.05" stroke="#000" stroke-width="1.35" />
<line x1="420.5" y1="611.05" x2="427.5" y2="611.05" stroke="#000" stroke-width="1.35" />
<text transform="translate(46.9,615.8) scale(1.0,1.065)" font-size="14.4" text-anchor="end" fill="#000" stroke="#000" stroke-width="0.2" >2.9</text>
<line x1="51.2" y1="632.6" x2="58.2" y2="632.6" stroke="#000" stroke-width="1.35" />
<line x1="420.5" y1="632.6" x2="427.5" y2="632.6" stroke="#000" stroke-width="1.35" />
<text transform="translate(46.9,637.35) scale(1.0,1.065)" font-size="14.4" text-anchor="end" fill="#000" stroke="#000" stroke-width="0.2" >2.8</text>
<line x1="51.2" y1="654.15" x2="58.2" y2="654.15" stroke="#000" stroke-width="1.35" />
<line x1="420.5" y1="654.15" x2="427.5" y2="654.15" stroke="#000" stroke-width="1.35" />
<text transform="translate(46.9,658.9) scale(1.0,1.065)" font-size="14.4" text-anchor="end" fill="#000" stroke="#000" stroke-width="0.2" >2.7</text>
<line x1="51.2" y1="675.7" x2="58.2" y2="675.7" stroke="#000" stroke-width="1.35" />
<line x1="420.5" y1="675.7" x2="427.5" y2="675.7" stroke="#000" stroke-width="1.35" />
<text transform="translate(46.9,680.45) scale(1.0,1.065)" font-size="14.4" text-anchor="end" fill="#000" stroke="#000" stroke-width="0.2" >2.6</text>
<line x1="51.2" y1="704.2" x2="58.2" y2="704.2" stroke="#000" stroke-width="1.35" />
<line x1="420.5" y1="704.2" x2="427.5" y2="704.2" stroke="#000" stroke-width="1.35" />
<text transform="translate(46.9,708.95) scale(1.0,1.065)" font-size="14.4" text-anchor="end" fill="#000" stroke="#000" stroke-width="0.2" >100</text>
<line x1="51.2" y1="727.73" x2="58.2" y2="727.73" stroke="#000" stroke-width="1.35" />
<line x1="420.5" y1="727.73" x2="427.5" y2="727.73" stroke="#000" stroke-width="1.35" />
<text transform="translate(46.9,732.48) scale(1.0,1.065)" font-size="14.4" text-anchor="end" fill="#000" stroke="#000" stroke-width="0.2" >90</text>
<line x1="51.2" y1="751.26" x2="58.2" y2="751.26" stroke="#000" stroke-width="1.35" />
<line x1="420.5" y1="751.26" x2="427.5" y2="751.26" stroke="#000" stroke-width="1.35" />
<text transform="translate(46.9,756.01) scale(1.0,1.065)" font-size="14.4" text-anchor="end" fill="#000" stroke="#000" stroke-width="0.2" >80</text>
<line x1="51.2" y1="774.79" x2="58.2" y2="774.79" stroke="#000" stroke-width="1.35" />
<line x1="420.5" y1="774.79" x2="427.5" y2="774.79" stroke="#000" stroke-width="1.35" />
<text transform="translate(46.9,779.54) scale(1.0,1.065)" font-size="14.4" text-anchor="end" fill="#000" stroke="#000" stroke-width="0.2" >70</text>
<line x1="61.52" y1="582.5" x2="61.52" y2="583.8" stroke="#000" stroke-width="1" />
<line x1="61.52" y1="683.8" x2="61.52" y2="682.5" stroke="#000" stroke-width="1" />
<line x1="61.52" y1="683.8" x2="61.52" y2="685.1" stroke="#000" stroke-width="1" />
<line x1="61.52" y1="784.9" x2="61.52" y2="783.6" stroke="#000" stroke-width="1" />
<line x1="71.6" y1="582.5" x2="71.6" y2="583.8" stroke="#000" stroke-width="1" />
<line x1="71.6" y1="683.8" x2="71.6" y2="682.5" stroke="#000" stroke-width="1" />
<line x1="71.6" y1="683.8" x2="71.6" y2="685.1" stroke="#000" stroke-width="1" />
<line x1="71.6" y1="784.9" x2="71.6" y2="783.6" stroke="#000" stroke-width="1" />
<line x1="81.69" y1="582.5" x2="81.69" y2="583.8" stroke="#000" stroke-width="1" />
<line x1="81.69" y1="683.8" x2="81.69" y2="682.5" stroke="#000" stroke-width="1" />
<line x1="81.69" y1="683.8" x2="81.69" y2="685.1" stroke="#000" stroke-width="1" />
<line x1="81.69" y1="784.9" x2="81.69" y2="783.6" stroke="#000" stroke-width="1" />
<line x1="91.77" y1="582.5" x2="91.77" y2="583.8" stroke="#000" stroke-width="1" />
<line x1="91.77" y1="683.8" x2="91.77" y2="682.5" stroke="#000" stroke-width="1" />
<line x1="91.77" y1="683.8" x2="91.77" y2="685.1" stroke="#000" stroke-width="1" />
<line x1="91.77" y1="784.9" x2="91.77" y2="783.6" stroke="#000" stroke-width="1" />
<line x1="101.86" y1="582.5" x2="101.86" y2="583.8" stroke="#000" stroke-width="1" />
<line x1="101.86" y1="683.8" x2="101.86" y2="682.5" stroke="#000" stroke-width="1" />
<line x1="101.86" y1="683.8" x2="101.86" y2="685.1" stroke="#000" stroke-width="1" />
<line x1="101.86" y1="784.9" x2="101.86" y2="783.6" stroke="#000" stroke-width="1" />
<line x1="111.94" y1="582.5" x2="111.94" y2="583.8" stroke="#000" stroke-width="1" />
<line x1="111.94" y1="683.8" x2="111.94" y2="682.5" stroke="#000" stroke-width="1" />
<line x1="111.94" y1="683.8" x2="111.94" y2="685.1" stroke="#000" stroke-width="1" />
<line x1="111.94" y1="784.9" x2="111.94" y2="783.6" stroke="#000" stroke-width="1" />
<line x1="122.03" y1="582.5" x2="122.03" y2="583.8" stroke="#000" stroke-width="1" />
<line x1="122.03" y1="683.8" x2="122.03" y2="682.5" stroke="#000" stroke-width="1" />
<line x1="122.03" y1="683.8" x2="122.03" y2="685.1" stroke="#000" stroke-width="1" />
<line x1="122.03" y1="784.9" x2="122.03" y2="783.6" stroke="#000" stroke-width="1" />
<line x1="132.11" y1="582.5" x2="132.11" y2="583.8" stroke="#000" stroke-width="1" />
<line x1="132.11" y1="683.8" x2="132.11" y2="682.5" stroke="#000" stroke-width="1" />
<line x1="132.11" y1="683.8" x2="132.11" y2="685.1" stroke="#000" stroke-width="1" />
<line x1="132.11" y1="784.9" x2="132.11" y2="783.6" stroke="#000" stroke-width="1" />
<line x1="142.2" y1="582.5" x2="142.2" y2="585.1" stroke="#000" stroke-width="1" />
<line x1="142.2" y1="683.8" x2="142.2" y2="681.2" stroke="#000" stroke-width="1" />
<line x1="142.2" y1="683.8" x2="142.2" y2="686.4" stroke="#000" stroke-width="1" />
<line x1="142.2" y1="784.9" x2="142.2" y2="782.3" stroke="#000" stroke-width="1" />
<line x1="152.28" y1="582.5" x2="152.28" y2="583.8" stroke="#000" stroke-width="1" />
<line x1="152.28" y1="683.8" x2="152.28" y2="682.5" stroke="#000" stroke-width="1" />
<line x1="152.28" y1="683.8" x2="152.28" y2="685.1" stroke="#000" stroke-width="1" />
<line x1="152.28" y1="784.9" x2="152.28" y2="783.6" stroke="#000" stroke-width="1" />
<line x1="162.37" y1="582.5" x2="162.37" y2="583.8" stroke="#000" stroke-width="1" />
<line x1="162.37" y1="683.8" x2="162.37" y2="682.5" stroke="#000" stroke-width="1" />
<line x1="162.37" y1="683.8" x2="162.37" y2="685.1" stroke="#000" stroke-width="1" />
<line x1="162.37" y1="784.9" x2="162.37" y2="783.6" stroke="#000" stroke-width="1" />
<line x1="172.45" y1="582.5" x2="172.45" y2="583.8" stroke="#000" stroke-width="1" />
<line x1="172.45" y1="683.8" x2="172.45" y2="682.5" stroke="#000" stroke-width="1" />
<line x1="172.45" y1="683.8" x2="172.45" y2="685.1" stroke="#000" stroke-width="1" />
<line x1="172.45" y1="784.9" x2="172.45" y2="783.6" stroke="#000" stroke-width="1" />
<line x1="182.54" y1="582.5" x2="182.54" y2="583.8" stroke="#000" stroke-width="1" />
<line x1="182.54" y1="683.8" x2="182.54" y2="682.5" stroke="#000" stroke-width="1" />
<line x1="182.54" y1="683.8" x2="182.54" y2="685.1" stroke="#000" stroke-width="1" />
<line x1="182.54" y1="784.9" x2="182.54" y2="783.6" stroke="#000" stroke-width="1" />
<line x1="192.62" y1="582.5" x2="192.62" y2="583.8" stroke="#000" stroke-width="1" />
<line x1="192.62" y1="683.8" x2="192.62" y2="682.5" stroke="#000" stroke-width="1" />
<line x1="192.62" y1="683.8" x2="192.62" y2="685.1" stroke="#000" stroke-width="1" />
<line x1="192.62" y1="784.9" x2="192.62" y2="783.6" stroke="#000" stroke-width="1" />
<line x1="202.71" y1="582.5" x2="202.71" y2="583.8" stroke="#000" stroke-width="1" />
<line x1="202.71" y1="683.8" x2="202.71" y2="682.5" stroke="#000" stroke-width="1" />
<line x1="202.71" y1="683.8" x2="202.71" y2="685.1" stroke="#000" stroke-width="1" />
<line x1="202.71" y1="784.9" x2="202.71" y2="783.6" stroke="#000" stroke-width="1" />
<line x1="212.79" y1="582.5" x2="212.79" y2="583.8" stroke="#000" stroke-width="1" />
<line x1="212.79" y1="683.8" x2="212.79" y2="682.5" stroke="#000" stroke-width="1" />
<line x1="212.79" y1="683.8" x2="212.79" y2="685.1" stroke="#000" stroke-width="1" />
<line x1="212.79" y1="784.9" x2="212.79" y2="783.6" stroke="#000" stroke-width="1" />
<line x1="222.88" y1="582.5" x2="222.88" y2="583.8" stroke="#000" stroke-width="1" />
<line x1="222.88" y1="683.8" x2="222.88" y2="682.5" stroke="#000" stroke-width="1" />
<line x1="222.88" y1="683.8" x2="222.88" y2="685.1" stroke="#000" stroke-width="1" />
<line x1="222.88" y1="784.9" x2="222.88" y2="783.6" stroke="#000" stroke-width="1" />
<line x1="232.97" y1="582.5" x2="232.97" y2="583.8" stroke="#000" stroke-width="1" />
<line x1="232.97" y1="683.8" x2="232.97" y2="682.5" stroke="#000" stroke-width="1" />
<line x1="232.97" y1="683.8" x2="232.97" y2="685.1" stroke="#000" stroke-width="1" />
<line x1="232.97" y1="784.9" x2="232.97" y2="783.6" stroke="#000" stroke-width="1" />
<line x1="243.05" y1="582.5" x2="243.05" y2="585.1" stroke="#000" stroke-width="1" />
<line x1="243.05" y1="683.8" x2="243.05" y2="681.2" stroke="#000" stroke-width="1" />
<line x1="243.05" y1="683.8" x2="243.05" y2="686.4" stroke="#000" stroke-width="1" />
<line x1="243.05" y1="784.9" x2="243.05" y2="782.3" stroke="#000" stroke-width="1" />
<line x1="253.13" y1="582.5" x2="253.13" y2="583.8" stroke="#000" stroke-width="1" />
<line x1="253.13" y1="683.8" x2="253.13" y2="682.5" stroke="#000" stroke-width="1" />
<line x1="253.13" y1="683.8" x2="253.13" y2="685.1" stroke="#000" stroke-width="1" />
<line x1="253.13" y1="784.9" x2="253.13" y2="783.6" stroke="#000" stroke-width="1" />
<line x1="263.22" y1="582.5" x2="263.22" y2="583.8" stroke="#000" stroke-width="1" />
<line x1="263.22" y1="683.8" x2="263.22" y2="682.5" stroke="#000" stroke-width="1" />
<line x1="263.22" y1="683.8" x2="263.22" y2="685.1" stroke="#000" stroke-width="1" />
<line x1="263.22" y1="784.9" x2="263.22" y2="783.6" stroke="#000" stroke-width="1" />
<line x1="273.31" y1="582.5" x2="273.31" y2="583.8" stroke="#000" stroke-width="1" />
<line x1="273.31" y1="683.8" x2="273.31" y2="682.5" stroke="#000" stroke-width="1" />
<line x1="273.31" y1="683.8" x2="273.31" y2="685.1" stroke="#000" stroke-width="1" />
<line x1="273.31" y1="784.9" x2="273.31" y2="783.6" stroke="#000" stroke-width="1" />
<line x1="283.39" y1="582.5" x2="283.39" y2="583.8" stroke="#000" stroke-width="1" />
<line x1="283.39" y1="683.8" x2="283.39" y2="682.5" stroke="#000" stroke-width="1" />
<line x1="283.39" y1="683.8" x2="283.39" y2="685.1" stroke="#000" stroke-width="1" />
<line x1="283.39" y1="784.9" x2="283.39" y2="783.6" stroke="#000" stroke-width="1" />
<line x1="293.48" y1="582.5" x2="293.48" y2="583.8" stroke="#000" stroke-width="1" />
<line x1="293.48" y1="683.8" x2="293.48" y2="682.5" stroke="#000" stroke-width="1" />
<line x1="293.48" y1="683.8" x2="293.48" y2="685.1" stroke="#000" stroke-width="1" />
<line x1="293.48" y1="784.9" x2="293.48" y2="783.6" stroke="#000" stroke-width="1" />
<line x1="303.56" y1="582.5" x2="303.56" y2="583.8" stroke="#000" stroke-width="1" />
<line x1="303.56" y1="683.8" x2="303.56" y2="682.5" stroke="#000" stroke-width="1" />
<line x1="303.56" y1="683.8" x2="303.56" y2="685.1" stroke="#000" stroke-width="1" />
<line x1="303.56" y1="784.9" x2="303.56" y2="783.6" stroke="#000" stroke-width="1" />
<line x1="313.64" y1="582.5" x2="313.64" y2="583.8" stroke="#000" stroke-width="1" />
<line x1="313.64" y1="683.8" x2="313.64" y2="682.5" stroke="#000" stroke-width="1" />
<line x1="313.64" y1="683.8" x2="313.64" y2="685.1" stroke="#000" stroke-width="1" />
<line x1="313.64" y1="784.9" x2="313.64" y2="783.6" stroke="#000" stroke-width="1" />
<line x1="323.73" y1="582.5" x2="323.73" y2="583.8" stroke="#000" stroke-width="1" />
<line x1="323.73" y1="683.8" x2="323.73" y2="682.5" stroke="#000" stroke-width="1" />
<line x1="323.73" y1="683.8" x2="323.73" y2="685.1" stroke="#000" stroke-width="1" />
<line x1="323.73" y1="784.9" x2="323.73" y2="783.6" stroke="#000" stroke-width="1" />
<line x1="333.81" y1="582.5" x2="333.81" y2="583.8" stroke="#000" stroke-width="1" />
<line x1="333.81" y1="683.8" x2="333.81" y2="682.5" stroke="#000" stroke-width="1" />
<line x1="333.81" y1="683.8" x2="333.81" y2="685.1" stroke="#000" stroke-width="1" />
<line x1="333.81" y1="784.9" x2="333.81" y2="783.6" stroke="#000" stroke-width="1" />
<line x1="343.9" y1="582.5" x2="343.9" y2="585.1" stroke="#000" stroke-width="1" />
<line x1="343.9" y1="683.8" x2="343.9" y2="681.2" stroke="#000" stroke-width="1" />
<line x1="343.9" y1="683.8" x2="343.9" y2="686.4" stroke="#000" stroke-width="1" />
<line x1="343.9" y1="784.9" x2="343.9" y2="782.3" stroke="#000" stroke-width="1" />
<line x1="353.99" y1="582.5" x2="353.99" y2="583.8" stroke="#000" stroke-width="1" />
<line x1="353.99" y1="683.8" x2="353.99" y2="682.5" stroke="#000" stroke-width="1" />
<line x1="353.99" y1="683.8" x2="353.99" y2="685.1" stroke="#000" stroke-width="1" />
<line x1="353.99" y1="784.9" x2="353.99" y2="783.6" stroke="#000" stroke-width="1" />
<line x1="364.07" y1="582.5" x2="364.07" y2="583.8" stroke="#000" stroke-width="1" />
<line x1="364.07" y1="683.8" x2="364.07" y2="682.5" stroke="#000" stroke-width="1" />
<line x1="364.07" y1="683.8" x2="364.07" y2="685.1" stroke="#000" stroke-width="1" />
<line x1="364.07" y1="784.9" x2="364.07" y2="783.6" stroke="#000" stroke-width="1" />
<line x1="374.15" y1="582.5" x2="374.15" y2="583.8" stroke="#000" stroke-width="1" />
<line x1="374.15" y1="683.8" x2="374.15" y2="682.5" stroke="#000" stroke-width="1" />
<line x1="374.15" y1="683.8" x2="374.15" y2="685.1" stroke="#000" stroke-width="1" />
<line x1="374.15" y1="784.9" x2="374.15" y2="783.6" stroke="#000" stroke-width="1" />
<line x1="384.24" y1="582.5" x2="384.24" y2="583.8" stroke="#000" stroke-width="1" />
<line x1="384.24" y1="683.8" x2="384.24" y2="682.5" stroke="#000" stroke-width="1" />
<line x1="384.24" y1="683.8" x2="384.24" y2="685.1" stroke="#000" stroke-width="1" />
<line x1="384.24" y1="784.9" x2="384.24" y2="783.6" stroke="#000" stroke-width="1" />
<line x1="394.33" y1="582.5" x2="394.33" y2="583.8" stroke="#000" stroke-width="1" />
<line x1="394.33" y1="683.8" x2="394.33" y2="682.5" stroke="#000" stroke-width="1" />
<line x1="394.33" y1="683.8" x2="394.33" y2="685.1" stroke="#000" stroke-width="1" />
<line x1="394.33" y1="784.9" x2="394.33" y2="783.6" stroke="#000" stroke-width="1" />
<line x1="404.41" y1="582.5" x2="404.41" y2="583.8" stroke="#000" stroke-width="1" />
<line x1="404.41" y1="683.8" x2="404.41" y2="682.5" stroke="#000" stroke-width="1" />
<line x1="404.41" y1="683.8" x2="404.41" y2="685.1" stroke="#000" stroke-width="1" />
<line x1="404.41" y1="784.9" x2="404.41" y2="783.6" stroke="#000" stroke-width="1" />
<line x1="414.5" y1="582.5" x2="414.5" y2="583.8" stroke="#000" stroke-width="1" />
<line x1="414.5" y1="683.8" x2="414.5" y2="682.5" stroke="#000" stroke-width="1" />
<line x1="414.5" y1="683.8" x2="414.5" y2="685.1" stroke="#000" stroke-width="1" />
<line x1="414.5" y1="784.9" x2="414.5" y2="783.6" stroke="#000" stroke-width="1" />
<line x1="424.58" y1="582.5" x2="424.58" y2="583.8" stroke="#000" stroke-width="1" />
<line x1="424.58" y1="683.8" x2="424.58" y2="682.5" stroke="#000" stroke-width="1" />
<line x1="424.58" y1="683.8" x2="424.58" y2="685.1" stroke="#000" stroke-width="1" />
<line x1="424.58" y1="784.9" x2="424.58" y2="783.6" stroke="#000" stroke-width="1" />
<text transform="translate(142.2,803.3) scale(1.0,1.07)" font-size="14.3" text-anchor="middle" fill="#000" stroke="#000" stroke-width="0.2" >7600</text>
<text transform="translate(243.05,803.3) scale(1.0,1.07)" font-size="14.3" text-anchor="middle" fill="#000" stroke="#000" stroke-width="0.2" >7700</text>
<text transform="translate(343.9,803.3) scale(1.0,1.07)" font-size="14.3" text-anchor="middle" fill="#000" stroke="#000" stroke-width="0.2" >7800</text>
<text transform="translate(239.1,819.4) scale(1.0,1.07)" font-size="14.5" text-anchor="middle" fill="#000" stroke="#000" stroke-width="0.2" >HJD − 2450000</text>
<text transform="translate(14.8,633.15) rotate(-90)" font-size="14.5" text-anchor="middle" stroke="#000" stroke-width="0.2">f<tspan font-size="9.5" dy="4.2">λ</tspan></text>
<text transform="translate(10.9,734.35) rotate(-90)" font-size="14.5" text-anchor="middle" stroke="#000" stroke-width="0.2">f<tspan font-size="9.5" dy="4.0">line</tspan></text>
<text transform="translate(412.6,602.1) scale(0.955,1.0)" font-size="10.4" text-anchor="end" fill="#ff00ff" stroke="#ff00ff" stroke-width="0.2" >KAIT</text>
<text transform="translate(412.6,611.93) scale(0.955,1.0)" font-size="10.4" text-anchor="end" fill="#ff0000" stroke="#ff0000" stroke-width="0.2" >LCOGT−1m</text>
<text transform="translate(412.6,621.76) scale(0.955,1.0)" font-size="10.4" text-anchor="end" fill="#33cc33" stroke="#33cc33" stroke-width="0.2" >Liverpool</text>
<text transform="translate(412.6,631.59) scale(0.955,1.0)" font-size="10.4" text-anchor="end" fill="#551a8b" stroke="#551a8b" stroke-width="0.2" >WMO</text>
<text transform="translate(412.6,641.42) scale(0.955,1.0)" font-size="10.4" text-anchor="end" fill="#9b30ff" stroke="#9b30ff" stroke-width="0.2" >Whip</text>
<text transform="translate(85.6,638.4) scale(1.0,1.1)" font-size="13.3" text-anchor="middle" fill="#000" stroke="#000" stroke-width="0.2" >V</text>
<text transform="translate(73,712.15) scale(1.0,1.06)" font-size="14.3" text-anchor="start" fill="#000" stroke="#000" stroke-width="0.2" >Hβ</text>
<rect x="492.8" y="644.7" width="207.6" height="145" fill="none" stroke="#000" stroke-width="1.25"/>
<line x1="492.8" y1="789.7" x2="497" y2="789.7" stroke="#000" stroke-width="1.2" />
<line x1="696.2" y1="789.7" x2="700.4" y2="789.7" stroke="#000" stroke-width="1.2" />
<text transform="translate(488.6,789.5) scale(1.0,1.05)" font-size="13.1" text-anchor="end" fill="#000" stroke="#000" stroke-width="0.2" >0.00</text>
<line x1="492.8" y1="762.08" x2="497" y2="762.08" stroke="#000" stroke-width="1.2" />
<line x1="696.2" y1="762.08" x2="700.4" y2="762.08" stroke="#000" stroke-width="1.2" />
<text transform="translate(488.6,766.38) scale(1.0,1.05)" font-size="13.1" text-anchor="end" fill="#000" stroke="#000" stroke-width="0.2" >0.20</text>
<line x1="492.8" y1="734.46" x2="497" y2="734.46" stroke="#000" stroke-width="1.2" />
<line x1="696.2" y1="734.46" x2="700.4" y2="734.46" stroke="#000" stroke-width="1.2" />
<text transform="translate(488.6,738.76) scale(1.0,1.05)" font-size="13.1" text-anchor="end" fill="#000" stroke="#000" stroke-width="0.2" >0.40</text>
<line x1="492.8" y1="706.84" x2="497" y2="706.84" stroke="#000" stroke-width="1.2" />
<line x1="696.2" y1="706.84" x2="700.4" y2="706.84" stroke="#000" stroke-width="1.2" />
<text transform="translate(488.6,711.14) scale(1.0,1.05)" font-size="13.1" text-anchor="end" fill="#000" stroke="#000" stroke-width="0.2" >0.60</text>
<line x1="492.8" y1="679.22" x2="497" y2="679.22" stroke="#000" stroke-width="1.2" />
<line x1="696.2" y1="679.22" x2="700.4" y2="679.22" stroke="#000" stroke-width="1.2" />
<text transform="translate(488.6,683.52) scale(1.0,1.05)" font-size="13.1" text-anchor="end" fill="#000" stroke="#000" stroke-width="0.2" >0.80</text>
<line x1="492.8" y1="651.6" x2="497" y2="651.6" stroke="#000" stroke-width="1.2" />
<line x1="696.2" y1="651.6" x2="700.4" y2="651.6" stroke="#000" stroke-width="1.2" />
<text transform="translate(488.6,655.9) scale(1.0,1.05)" font-size="13.1" text-anchor="end" fill="#000" stroke="#000" stroke-width="0.2" >1.00</text>
<line x1="518.6" y1="789.7" x2="518.6" y2="793.3" stroke="#000" stroke-width="1.2" />
<line x1="518.6" y1="644.7" x2="518.6" y2="646.9" stroke="#000" stroke-width="1.2" />
<text transform="translate(518.6,809.8) scale(1.0,1.05)" font-size="13" text-anchor="middle" fill="#000" stroke="#000" stroke-width="0.2" >−20</text>
<line x1="570.57" y1="789.7" x2="570.57" y2="793.3" stroke="#000" stroke-width="1.2" />
<line x1="570.57" y1="644.7" x2="570.57" y2="646.9" stroke="#000" stroke-width="1.2" />
<text transform="translate(570.57,809.8) scale(1.0,1.05)" font-size="13" text-anchor="middle" fill="#000" stroke="#000" stroke-width="0.2" >0</text>
<line x1="622.54" y1="789.7" x2="622.54" y2="793.3" stroke="#000" stroke-width="1.2" />
<line x1="622.54" y1="644.7" x2="622.54" y2="646.9" stroke="#000" stroke-width="1.2" />
<text transform="translate(622.54,809.8) scale(1.0,1.05)" font-size="13" text-anchor="middle" fill="#000" stroke="#000" stroke-width="0.2" >20</text>
<line x1="674.51" y1="789.7" x2="674.51" y2="793.3" stroke="#000" stroke-width="1.2" />
<line x1="674.51" y1="644.7" x2="674.51" y2="646.9" stroke="#000" stroke-width="1.2" />
<text transform="translate(674.51,809.8) scale(1.0,1.05)" font-size="13" text-anchor="middle" fill="#000" stroke="#000" stroke-width="0.2" >40</text>
<text transform="translate(597,826) scale(1.0,1.06)" font-size="13.4" text-anchor="middle" fill="#000" stroke="#000" stroke-width="0.2" >Lag (days)</text>
<text transform="translate(453.0,717.7) rotate(-90) scale(1,1.1)" font-size="13.4" text-anchor="middle" stroke="#000" stroke-width="0.2">CCF / CCCD</text>
</svg>
</body></html>
